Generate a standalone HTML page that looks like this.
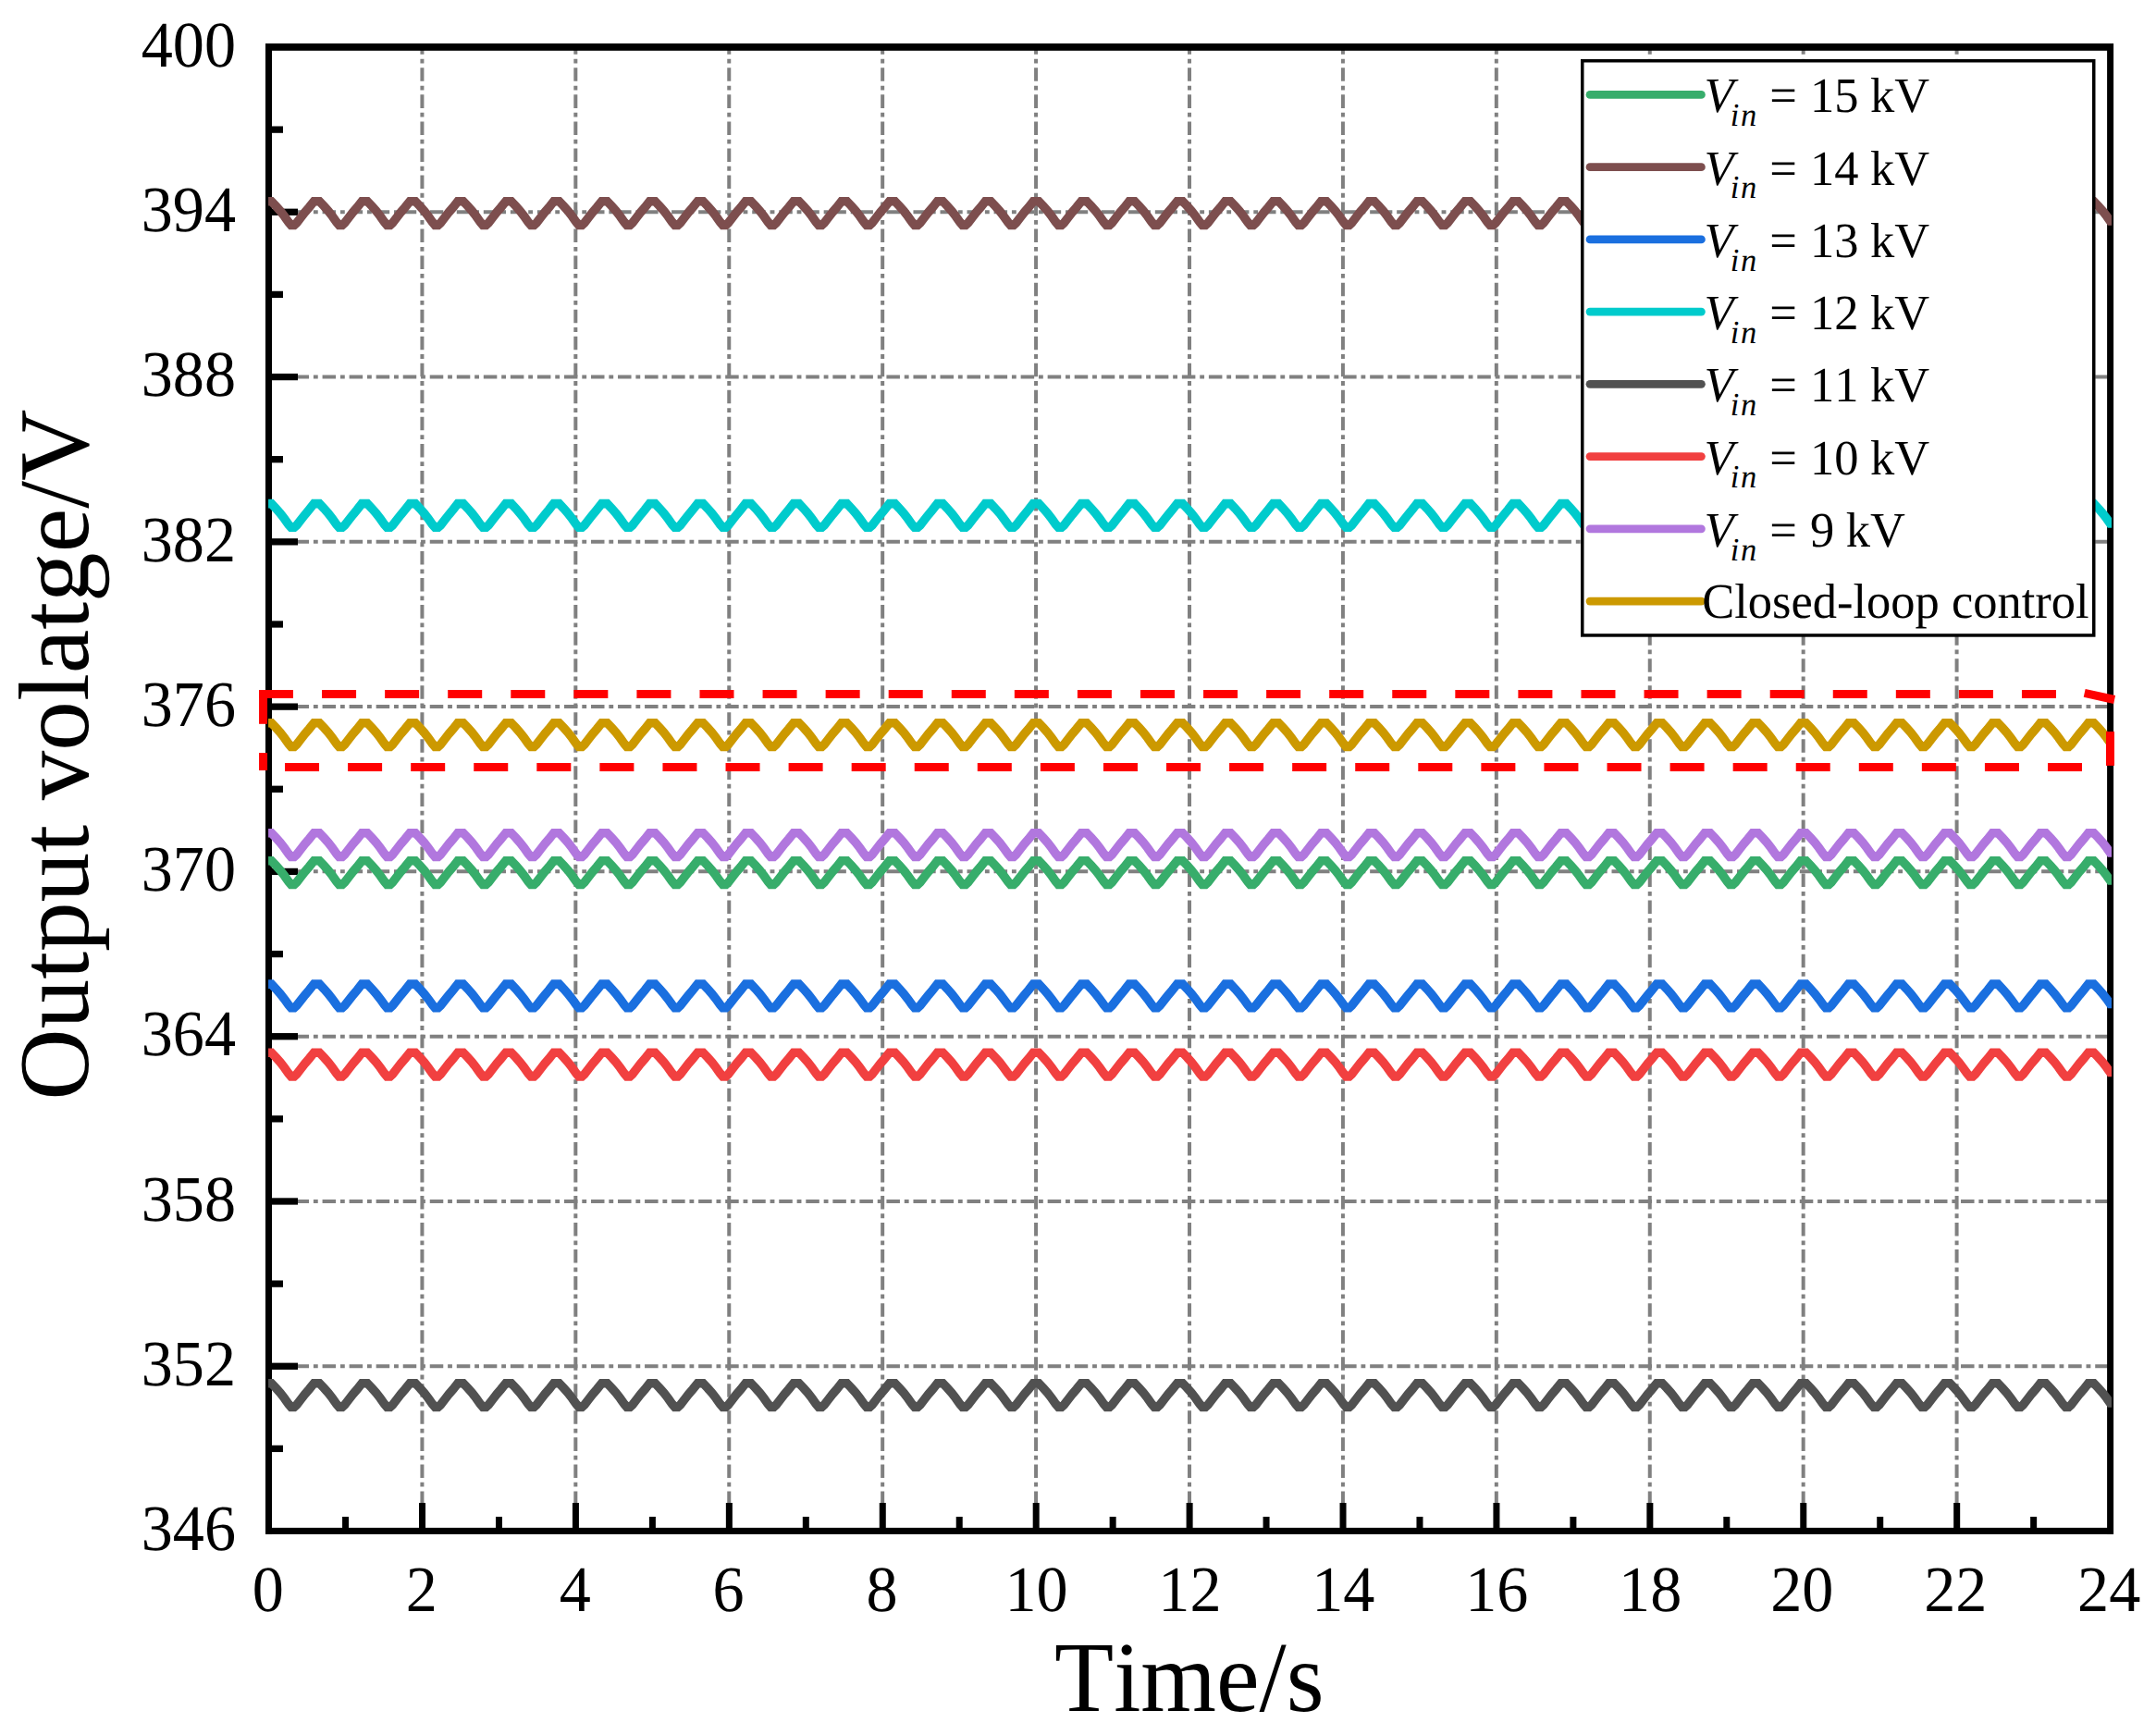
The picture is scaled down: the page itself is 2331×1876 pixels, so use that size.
<!DOCTYPE html>
<html lang="en"><head><meta charset="utf-8"><title>Output voltage versus time</title>
<style>
html,body{margin:0;padding:0;background:#fff;}
body{width:2331px;height:1876px;overflow:hidden;}
svg{display:block;}
text{font-family:"Liberation Serif",serif;fill:#000;font-kerning:none;text-rendering:geometricPrecision;white-space:pre;}
</style></head><body>
<svg width="2331" height="1876" viewBox="0 0 2331 1876">
<rect x="0" y="0" width="2331" height="1876" fill="#ffffff"/>
<g stroke="#808080" stroke-width="4" stroke-dasharray="14.52 4.84 4.84 4.84" fill="none">
<line x1="456.42" y1="1656" x2="456.42" y2="50.95"/>
<line x1="622.33" y1="1656" x2="622.33" y2="50.95"/>
<line x1="788.25" y1="1656" x2="788.25" y2="50.95"/>
<line x1="954.17" y1="1656" x2="954.17" y2="50.95"/>
<line x1="1120.08" y1="1656" x2="1120.08" y2="50.95"/>
<line x1="1286" y1="1656" x2="1286" y2="50.95"/>
<line x1="1451.92" y1="1656" x2="1451.92" y2="50.95"/>
<line x1="1617.83" y1="1656" x2="1617.83" y2="50.95"/>
<line x1="1783.75" y1="1656" x2="1783.75" y2="50.95"/>
<line x1="1949.67" y1="1656" x2="1949.67" y2="50.95"/>
<line x1="2115.58" y1="1656" x2="2115.58" y2="50.95"/>
<line x1="290.5" y1="1477.22" x2="2281.5" y2="1477.22"/>
<line x1="290.5" y1="1298.93" x2="2281.5" y2="1298.93"/>
<line x1="290.5" y1="1120.65" x2="2281.5" y2="1120.65"/>
<line x1="290.5" y1="942.37" x2="2281.5" y2="942.37"/>
<line x1="290.5" y1="764.08" x2="2281.5" y2="764.08"/>
<line x1="290.5" y1="585.8" x2="2281.5" y2="585.8"/>
<line x1="290.5" y1="407.52" x2="2281.5" y2="407.52"/>
<line x1="290.5" y1="229.23" x2="2281.5" y2="229.23"/>
</g>
<g fill="#000000">
<rect x="287" y="47" width="1998" height="7.8"/>
<rect x="287" y="1651.9" width="1998" height="7"/>
<rect x="287" y="47" width="7" height="1611.9"/>
<rect x="2278.1" y="47" width="7" height="1611.9"/>
<rect x="290.5" y="136.49" width="15.5" height="7.3"/>
<rect x="290.5" y="225.63" width="31.5" height="7.3"/>
<rect x="290.5" y="314.77" width="15.5" height="7.3"/>
<rect x="290.5" y="403.92" width="31.5" height="7.3"/>
<rect x="290.5" y="493.06" width="15.5" height="7.3"/>
<rect x="290.5" y="582.2" width="31.5" height="7.3"/>
<rect x="290.5" y="671.34" width="15.5" height="7.3"/>
<rect x="290.5" y="760.48" width="31.5" height="7.3"/>
<rect x="290.5" y="849.62" width="15.5" height="7.3"/>
<rect x="290.5" y="938.77" width="31.5" height="7.3"/>
<rect x="290.5" y="1027.91" width="15.5" height="7.3"/>
<rect x="290.5" y="1117.05" width="31.5" height="7.3"/>
<rect x="290.5" y="1206.19" width="15.5" height="7.3"/>
<rect x="290.5" y="1295.33" width="31.5" height="7.3"/>
<rect x="290.5" y="1384.48" width="15.5" height="7.3"/>
<rect x="290.5" y="1473.62" width="31.5" height="7.3"/>
<rect x="290.5" y="1562.76" width="15.5" height="7.3"/>
<rect x="370.06" y="1640" width="7" height="15.5"/>
<rect x="453.02" y="1625" width="7" height="30.5"/>
<rect x="535.98" y="1640" width="7" height="15.5"/>
<rect x="618.93" y="1625" width="7" height="30.5"/>
<rect x="701.89" y="1640" width="7" height="15.5"/>
<rect x="784.85" y="1625" width="7" height="30.5"/>
<rect x="867.81" y="1640" width="7" height="15.5"/>
<rect x="950.77" y="1625" width="7" height="30.5"/>
<rect x="1033.72" y="1640" width="7" height="15.5"/>
<rect x="1116.68" y="1625" width="7" height="30.5"/>
<rect x="1199.64" y="1640" width="7" height="15.5"/>
<rect x="1282.6" y="1625" width="7" height="30.5"/>
<rect x="1365.56" y="1640" width="7" height="15.5"/>
<rect x="1448.52" y="1625" width="7" height="30.5"/>
<rect x="1531.47" y="1640" width="7" height="15.5"/>
<rect x="1614.43" y="1625" width="7" height="30.5"/>
<rect x="1697.39" y="1640" width="7" height="15.5"/>
<rect x="1780.35" y="1625" width="7" height="30.5"/>
<rect x="1863.31" y="1640" width="7" height="15.5"/>
<rect x="1946.27" y="1625" width="7" height="30.5"/>
<rect x="2029.22" y="1640" width="7" height="15.5"/>
<rect x="2112.18" y="1625" width="7" height="30.5"/>
<rect x="2195.14" y="1640" width="7" height="15.5"/>
</g>
<clipPath id="plotclip"><rect x="290.05" y="40" width="1993.01" height="1630"/></clipPath>
<g clip-path="url(#plotclip)" fill="none" stroke-width="9.6" stroke-linejoin="miter" stroke-miterlimit="4" stroke-linecap="butt">
<polyline stroke="#37AD6B" points="290.1,930.7 293.5,930.7 298.5,936.0 303.0,941.1 307.5,946.9 312.0,953.2 314.7,956.4 318.1,956.4 320.8,953.9 325.3,948.1 329.8,942.4 334.3,937.1 339.4,930.7 345.4,930.7 350.4,936.0 354.9,941.1 359.4,946.9 363.9,953.2 366.6,956.4 370.0,956.4 372.7,953.9 377.2,948.1 381.7,942.4 386.2,937.1 391.2,930.7 397.2,930.7 402.2,936.0 406.7,941.1 411.2,946.9 415.7,953.2 418.4,956.4 421.8,956.4 424.5,953.9 429.0,948.1 433.5,942.4 438.0,937.1 443.1,930.7 449.1,930.7 454.1,936.0 458.6,941.1 463.1,946.9 467.6,953.2 470.3,956.4 473.7,956.4 476.4,953.9 480.9,948.1 485.4,942.4 489.9,937.1 494.9,930.7 500.9,930.7 505.9,936.0 510.4,941.1 514.9,946.9 519.4,953.2 522.1,956.4 525.5,956.4 528.2,953.9 532.7,948.1 537.2,942.4 541.7,937.1 546.8,930.7 552.8,930.7 557.8,936.0 562.2,941.1 566.8,946.9 571.2,953.2 574.0,956.4 577.4,956.4 580.1,953.9 584.6,948.1 589.1,942.4 593.6,937.1 598.6,930.7 604.6,930.7 609.6,936.0 614.1,941.1 618.6,946.9 623.1,953.2 625.8,956.4 629.2,956.4 631.9,953.9 636.4,948.1 640.9,942.4 645.4,937.1 650.5,930.7 656.5,930.7 661.5,936.0 666.0,941.1 670.5,946.9 675.0,953.2 677.7,956.4 681.1,956.4 683.8,953.9 688.3,948.1 692.8,942.4 697.3,937.1 702.3,930.7 708.3,930.7 713.3,936.0 717.8,941.1 722.3,946.9 726.8,953.2 729.5,956.4 732.9,956.4 735.6,953.9 740.1,948.1 744.6,942.4 749.1,937.1 754.2,930.7 760.2,930.7 765.2,936.0 769.7,941.1 774.2,946.9 778.7,953.2 781.4,956.4 784.8,956.4 787.5,953.9 792.0,948.1 796.5,942.4 801.0,937.1 806.0,930.7 812.0,930.7 817.0,936.0 821.5,941.1 826.0,946.9 830.5,953.2 833.2,956.4 836.6,956.4 839.3,953.9 843.8,948.1 848.3,942.4 852.8,937.1 857.9,930.7 863.9,930.7 868.9,936.0 873.4,941.1 877.9,946.9 882.4,953.2 885.1,956.4 888.5,956.4 891.2,953.9 895.7,948.1 900.2,942.4 904.7,937.1 909.7,930.7 915.7,930.7 920.7,936.0 925.2,941.1 929.7,946.9 934.2,953.2 936.9,956.4 940.3,956.4 943.0,953.9 947.5,948.1 952.0,942.4 956.5,937.1 961.6,930.7 967.6,930.7 972.6,936.0 977.1,941.1 981.6,946.9 986.1,953.2 988.8,956.4 992.2,956.4 994.9,953.9 999.4,948.1 1003.9,942.4 1008.4,937.1 1013.4,930.7 1019.4,930.7 1024.4,936.0 1028.9,941.1 1033.4,946.9 1037.9,953.2 1040.6,956.4 1044.0,956.4 1046.7,953.9 1051.2,948.1 1055.7,942.4 1060.2,937.1 1065.2,930.7 1071.2,930.7 1076.2,936.0 1080.8,941.1 1085.2,946.9 1089.8,953.2 1092.5,956.4 1095.9,956.4 1098.6,953.9 1103.1,948.1 1107.6,942.4 1112.1,937.1 1117.1,930.7 1123.1,930.7 1128.1,936.0 1132.6,941.1 1137.1,946.9 1141.6,953.2 1144.3,956.4 1147.7,956.4 1150.4,953.9 1154.9,948.1 1159.4,942.4 1163.9,937.1 1169.0,930.7 1175.0,930.7 1180.0,936.0 1184.5,941.1 1189.0,946.9 1193.5,953.2 1196.2,956.4 1199.6,956.4 1202.3,953.9 1206.8,948.1 1211.3,942.4 1215.8,937.1 1220.8,930.7 1226.8,930.7 1231.8,936.0 1236.3,941.1 1240.8,946.9 1245.3,953.2 1248.0,956.4 1251.4,956.4 1254.1,953.9 1258.6,948.1 1263.1,942.4 1267.6,937.1 1272.7,930.7 1278.7,930.7 1283.7,936.0 1288.2,941.1 1292.7,946.9 1297.2,953.2 1299.9,956.4 1303.3,956.4 1306.0,953.9 1310.5,948.1 1315.0,942.4 1319.5,937.1 1324.5,930.7 1330.5,930.7 1335.5,936.0 1340.0,941.1 1344.5,946.9 1349.0,953.2 1351.7,956.4 1355.1,956.4 1357.8,953.9 1362.3,948.1 1366.8,942.4 1371.3,937.1 1376.4,930.7 1382.4,930.7 1387.4,936.0 1391.9,941.1 1396.4,946.9 1400.9,953.2 1403.6,956.4 1407.0,956.4 1409.7,953.9 1414.2,948.1 1418.7,942.4 1423.2,937.1 1428.2,930.7 1434.2,930.7 1439.2,936.0 1443.7,941.1 1448.2,946.9 1452.7,953.2 1455.4,956.4 1458.8,956.4 1461.5,953.9 1466.0,948.1 1470.5,942.4 1475.0,937.1 1480.0,930.7 1486.0,930.7 1491.0,936.0 1495.5,941.1 1500.0,946.9 1504.5,953.2 1507.3,956.4 1510.7,956.4 1513.4,953.9 1517.9,948.1 1522.4,942.4 1526.9,937.1 1531.9,930.7 1537.9,930.7 1542.9,936.0 1547.4,941.1 1551.9,946.9 1556.4,953.2 1559.1,956.4 1562.5,956.4 1565.2,953.9 1569.7,948.1 1574.2,942.4 1578.7,937.1 1583.8,930.7 1589.8,930.7 1594.8,936.0 1599.2,941.1 1603.8,946.9 1608.2,953.2 1611.0,956.4 1614.4,956.4 1617.1,953.9 1621.6,948.1 1626.1,942.4 1630.6,937.1 1635.6,930.7 1641.6,930.7 1646.6,936.0 1651.1,941.1 1655.6,946.9 1660.1,953.2 1662.8,956.4 1666.2,956.4 1668.9,953.9 1673.4,948.1 1677.9,942.4 1682.4,937.1 1687.5,930.7 1693.5,930.7 1698.5,936.0 1703.0,941.1 1707.5,946.9 1712.0,953.2 1714.7,956.4 1718.1,956.4 1720.8,953.9 1725.3,948.1 1729.8,942.4 1734.3,937.1 1739.3,930.7 1745.3,930.7 1750.3,936.0 1754.8,941.1 1759.3,946.9 1763.8,953.2 1766.5,956.4 1769.9,956.4 1772.6,953.9 1777.1,948.1 1781.6,942.4 1786.1,937.1 1791.2,930.7 1797.2,930.7 1802.2,936.0 1806.7,941.1 1811.2,946.9 1815.7,953.2 1818.4,956.4 1821.8,956.4 1824.5,953.9 1829.0,948.1 1833.5,942.4 1838.0,937.1 1843.0,930.7 1849.0,930.7 1854.0,936.0 1858.5,941.1 1863.0,946.9 1867.5,953.2 1870.2,956.4 1873.6,956.4 1876.3,953.9 1880.8,948.1 1885.3,942.4 1889.8,937.1 1894.9,930.7 1900.9,930.7 1905.9,936.0 1910.4,941.1 1914.9,946.9 1919.4,953.2 1922.1,956.4 1925.5,956.4 1928.2,953.9 1932.7,948.1 1937.2,942.4 1941.7,937.1 1946.7,930.7 1952.7,930.7 1957.7,936.0 1962.2,941.1 1966.7,946.9 1971.2,953.2 1973.9,956.4 1977.3,956.4 1980.0,953.9 1984.5,948.1 1989.0,942.4 1993.5,937.1 1998.5,930.7 2004.5,930.7 2009.5,936.0 2014.0,941.1 2018.5,946.9 2023.0,953.2 2025.8,956.4 2029.2,956.4 2031.9,953.9 2036.4,948.1 2040.9,942.4 2045.4,937.1 2050.4,930.7 2056.4,930.7 2061.4,936.0 2065.9,941.1 2070.4,946.9 2074.9,953.2 2077.6,956.4 2081.0,956.4 2083.7,953.9 2088.2,948.1 2092.7,942.4 2097.2,937.1 2102.2,930.7 2108.2,930.7 2113.2,936.0 2117.8,941.1 2122.2,946.9 2126.8,953.2 2129.5,956.4 2132.9,956.4 2135.6,953.9 2140.1,948.1 2144.6,942.4 2149.1,937.1 2154.1,930.7 2160.1,930.7 2165.1,936.0 2169.6,941.1 2174.1,946.9 2178.6,953.2 2181.3,956.4 2184.7,956.4 2187.4,953.9 2191.9,948.1 2196.4,942.4 2200.9,937.1 2205.9,930.7 2211.9,930.7 2216.9,936.0 2221.4,941.1 2225.9,946.9 2230.4,953.2 2233.2,956.4 2236.6,956.4 2239.3,953.9 2243.8,948.1 2248.3,942.4 2252.8,937.1 2257.8,930.7 2263.8,930.7 2268.8,936.0 2273.3,941.1 2277.8,946.9 2281.4,952.0 2286.1,952.0"/>
<polyline stroke="#7D4E4E" points="290.1,217.7 293.5,217.7 298.5,223.0 303.0,228.1 307.5,233.9 312.0,240.2 314.7,243.4 318.1,243.4 320.8,240.9 325.3,235.1 329.8,229.4 334.3,224.1 339.4,217.7 345.4,217.7 350.4,223.0 354.9,228.1 359.4,233.9 363.9,240.2 366.6,243.4 370.0,243.4 372.7,240.9 377.2,235.1 381.7,229.4 386.2,224.1 391.2,217.7 397.2,217.7 402.2,223.0 406.7,228.1 411.2,233.9 415.7,240.2 418.4,243.4 421.8,243.4 424.5,240.9 429.0,235.1 433.5,229.4 438.0,224.1 443.1,217.7 449.1,217.7 454.1,223.0 458.6,228.1 463.1,233.9 467.6,240.2 470.3,243.4 473.7,243.4 476.4,240.9 480.9,235.1 485.4,229.4 489.9,224.1 494.9,217.7 500.9,217.7 505.9,223.0 510.4,228.1 514.9,233.9 519.4,240.2 522.1,243.4 525.5,243.4 528.2,240.9 532.7,235.1 537.2,229.4 541.7,224.1 546.8,217.7 552.8,217.7 557.8,223.0 562.2,228.1 566.8,233.9 571.2,240.2 574.0,243.4 577.4,243.4 580.1,240.9 584.6,235.1 589.1,229.4 593.6,224.1 598.6,217.7 604.6,217.7 609.6,223.0 614.1,228.1 618.6,233.9 623.1,240.2 625.8,243.4 629.2,243.4 631.9,240.9 636.4,235.1 640.9,229.4 645.4,224.1 650.5,217.7 656.5,217.7 661.5,223.0 666.0,228.1 670.5,233.9 675.0,240.2 677.7,243.4 681.1,243.4 683.8,240.9 688.3,235.1 692.8,229.4 697.3,224.1 702.3,217.7 708.3,217.7 713.3,223.0 717.8,228.1 722.3,233.9 726.8,240.2 729.5,243.4 732.9,243.4 735.6,240.9 740.1,235.1 744.6,229.4 749.1,224.1 754.2,217.7 760.2,217.7 765.2,223.0 769.7,228.1 774.2,233.9 778.7,240.2 781.4,243.4 784.8,243.4 787.5,240.9 792.0,235.1 796.5,229.4 801.0,224.1 806.0,217.7 812.0,217.7 817.0,223.0 821.5,228.1 826.0,233.9 830.5,240.2 833.2,243.4 836.6,243.4 839.3,240.9 843.8,235.1 848.3,229.4 852.8,224.1 857.9,217.7 863.9,217.7 868.9,223.0 873.4,228.1 877.9,233.9 882.4,240.2 885.1,243.4 888.5,243.4 891.2,240.9 895.7,235.1 900.2,229.4 904.7,224.1 909.7,217.7 915.7,217.7 920.7,223.0 925.2,228.1 929.7,233.9 934.2,240.2 936.9,243.4 940.3,243.4 943.0,240.9 947.5,235.1 952.0,229.4 956.5,224.1 961.6,217.7 967.6,217.7 972.6,223.0 977.1,228.1 981.6,233.9 986.1,240.2 988.8,243.4 992.2,243.4 994.9,240.9 999.4,235.1 1003.9,229.4 1008.4,224.1 1013.4,217.7 1019.4,217.7 1024.4,223.0 1028.9,228.1 1033.4,233.9 1037.9,240.2 1040.6,243.4 1044.0,243.4 1046.7,240.9 1051.2,235.1 1055.7,229.4 1060.2,224.1 1065.2,217.7 1071.2,217.7 1076.2,223.0 1080.8,228.1 1085.2,233.9 1089.8,240.2 1092.5,243.4 1095.9,243.4 1098.6,240.9 1103.1,235.1 1107.6,229.4 1112.1,224.1 1117.1,217.7 1123.1,217.7 1128.1,223.0 1132.6,228.1 1137.1,233.9 1141.6,240.2 1144.3,243.4 1147.7,243.4 1150.4,240.9 1154.9,235.1 1159.4,229.4 1163.9,224.1 1169.0,217.7 1175.0,217.7 1180.0,223.0 1184.5,228.1 1189.0,233.9 1193.5,240.2 1196.2,243.4 1199.6,243.4 1202.3,240.9 1206.8,235.1 1211.3,229.4 1215.8,224.1 1220.8,217.7 1226.8,217.7 1231.8,223.0 1236.3,228.1 1240.8,233.9 1245.3,240.2 1248.0,243.4 1251.4,243.4 1254.1,240.9 1258.6,235.1 1263.1,229.4 1267.6,224.1 1272.7,217.7 1278.7,217.7 1283.7,223.0 1288.2,228.1 1292.7,233.9 1297.2,240.2 1299.9,243.4 1303.3,243.4 1306.0,240.9 1310.5,235.1 1315.0,229.4 1319.5,224.1 1324.5,217.7 1330.5,217.7 1335.5,223.0 1340.0,228.1 1344.5,233.9 1349.0,240.2 1351.7,243.4 1355.1,243.4 1357.8,240.9 1362.3,235.1 1366.8,229.4 1371.3,224.1 1376.4,217.7 1382.4,217.7 1387.4,223.0 1391.9,228.1 1396.4,233.9 1400.9,240.2 1403.6,243.4 1407.0,243.4 1409.7,240.9 1414.2,235.1 1418.7,229.4 1423.2,224.1 1428.2,217.7 1434.2,217.7 1439.2,223.0 1443.7,228.1 1448.2,233.9 1452.7,240.2 1455.4,243.4 1458.8,243.4 1461.5,240.9 1466.0,235.1 1470.5,229.4 1475.0,224.1 1480.0,217.7 1486.0,217.7 1491.0,223.0 1495.5,228.1 1500.0,233.9 1504.5,240.2 1507.3,243.4 1510.7,243.4 1513.4,240.9 1517.9,235.1 1522.4,229.4 1526.9,224.1 1531.9,217.7 1537.9,217.7 1542.9,223.0 1547.4,228.1 1551.9,233.9 1556.4,240.2 1559.1,243.4 1562.5,243.4 1565.2,240.9 1569.7,235.1 1574.2,229.4 1578.7,224.1 1583.8,217.7 1589.8,217.7 1594.8,223.0 1599.2,228.1 1603.8,233.9 1608.2,240.2 1611.0,243.4 1614.4,243.4 1617.1,240.9 1621.6,235.1 1626.1,229.4 1630.6,224.1 1635.6,217.7 1641.6,217.7 1646.6,223.0 1651.1,228.1 1655.6,233.9 1660.1,240.2 1662.8,243.4 1666.2,243.4 1668.9,240.9 1673.4,235.1 1677.9,229.4 1682.4,224.1 1687.5,217.7 1693.5,217.7 1698.5,223.0 1703.0,228.1 1707.5,233.9 1712.0,240.2 1714.7,243.4 1718.1,243.4 1720.8,240.9 1725.3,235.1 1729.8,229.4 1734.3,224.1 1739.3,217.7 1745.3,217.7 1750.3,223.0 1754.8,228.1 1759.3,233.9 1763.8,240.2 1766.5,243.4 1769.9,243.4 1772.6,240.9 1777.1,235.1 1781.6,229.4 1786.1,224.1 1791.2,217.7 1797.2,217.7 1802.2,223.0 1806.7,228.1 1811.2,233.9 1815.7,240.2 1818.4,243.4 1821.8,243.4 1824.5,240.9 1829.0,235.1 1833.5,229.4 1838.0,224.1 1843.0,217.7 1849.0,217.7 1854.0,223.0 1858.5,228.1 1863.0,233.9 1867.5,240.2 1870.2,243.4 1873.6,243.4 1876.3,240.9 1880.8,235.1 1885.3,229.4 1889.8,224.1 1894.9,217.7 1900.9,217.7 1905.9,223.0 1910.4,228.1 1914.9,233.9 1919.4,240.2 1922.1,243.4 1925.5,243.4 1928.2,240.9 1932.7,235.1 1937.2,229.4 1941.7,224.1 1946.7,217.7 1952.7,217.7 1957.7,223.0 1962.2,228.1 1966.7,233.9 1971.2,240.2 1973.9,243.4 1977.3,243.4 1980.0,240.9 1984.5,235.1 1989.0,229.4 1993.5,224.1 1998.5,217.7 2004.5,217.7 2009.5,223.0 2014.0,228.1 2018.5,233.9 2023.0,240.2 2025.8,243.4 2029.2,243.4 2031.9,240.9 2036.4,235.1 2040.9,229.4 2045.4,224.1 2050.4,217.7 2056.4,217.7 2061.4,223.0 2065.9,228.1 2070.4,233.9 2074.9,240.2 2077.6,243.4 2081.0,243.4 2083.7,240.9 2088.2,235.1 2092.7,229.4 2097.2,224.1 2102.2,217.7 2108.2,217.7 2113.2,223.0 2117.8,228.1 2122.2,233.9 2126.8,240.2 2129.5,243.4 2132.9,243.4 2135.6,240.9 2140.1,235.1 2144.6,229.4 2149.1,224.1 2154.1,217.7 2160.1,217.7 2165.1,223.0 2169.6,228.1 2174.1,233.9 2178.6,240.2 2181.3,243.4 2184.7,243.4 2187.4,240.9 2191.9,235.1 2196.4,229.4 2200.9,224.1 2205.9,217.7 2211.9,217.7 2216.9,223.0 2221.4,228.1 2225.9,233.9 2230.4,240.2 2233.2,243.4 2236.6,243.4 2239.3,240.9 2243.8,235.1 2248.3,229.4 2252.8,224.1 2257.8,217.7 2263.8,217.7 2268.8,223.0 2273.3,228.1 2277.8,233.9 2281.4,239.0 2286.1,239.0"/>
<polyline stroke="#1A6FDF" points="290.1,1064.1 293.5,1064.1 298.5,1069.4 303.0,1074.5 307.5,1080.3 312.0,1086.6 314.7,1089.8 318.1,1089.8 320.8,1087.3 325.3,1081.5 329.8,1075.8 334.3,1070.5 339.4,1064.1 345.4,1064.1 350.4,1069.4 354.9,1074.5 359.4,1080.3 363.9,1086.6 366.6,1089.8 370.0,1089.8 372.7,1087.3 377.2,1081.5 381.7,1075.8 386.2,1070.5 391.2,1064.1 397.2,1064.1 402.2,1069.4 406.7,1074.5 411.2,1080.3 415.7,1086.6 418.4,1089.8 421.8,1089.8 424.5,1087.3 429.0,1081.5 433.5,1075.8 438.0,1070.5 443.1,1064.1 449.1,1064.1 454.1,1069.4 458.6,1074.5 463.1,1080.3 467.6,1086.6 470.3,1089.8 473.7,1089.8 476.4,1087.3 480.9,1081.5 485.4,1075.8 489.9,1070.5 494.9,1064.1 500.9,1064.1 505.9,1069.4 510.4,1074.5 514.9,1080.3 519.4,1086.6 522.1,1089.8 525.5,1089.8 528.2,1087.3 532.7,1081.5 537.2,1075.8 541.7,1070.5 546.8,1064.1 552.8,1064.1 557.8,1069.4 562.2,1074.5 566.8,1080.3 571.2,1086.6 574.0,1089.8 577.4,1089.8 580.1,1087.3 584.6,1081.5 589.1,1075.8 593.6,1070.5 598.6,1064.1 604.6,1064.1 609.6,1069.4 614.1,1074.5 618.6,1080.3 623.1,1086.6 625.8,1089.8 629.2,1089.8 631.9,1087.3 636.4,1081.5 640.9,1075.8 645.4,1070.5 650.5,1064.1 656.5,1064.1 661.5,1069.4 666.0,1074.5 670.5,1080.3 675.0,1086.6 677.7,1089.8 681.1,1089.8 683.8,1087.3 688.3,1081.5 692.8,1075.8 697.3,1070.5 702.3,1064.1 708.3,1064.1 713.3,1069.4 717.8,1074.5 722.3,1080.3 726.8,1086.6 729.5,1089.8 732.9,1089.8 735.6,1087.3 740.1,1081.5 744.6,1075.8 749.1,1070.5 754.2,1064.1 760.2,1064.1 765.2,1069.4 769.7,1074.5 774.2,1080.3 778.7,1086.6 781.4,1089.8 784.8,1089.8 787.5,1087.3 792.0,1081.5 796.5,1075.8 801.0,1070.5 806.0,1064.1 812.0,1064.1 817.0,1069.4 821.5,1074.5 826.0,1080.3 830.5,1086.6 833.2,1089.8 836.6,1089.8 839.3,1087.3 843.8,1081.5 848.3,1075.8 852.8,1070.5 857.9,1064.1 863.9,1064.1 868.9,1069.4 873.4,1074.5 877.9,1080.3 882.4,1086.6 885.1,1089.8 888.5,1089.8 891.2,1087.3 895.7,1081.5 900.2,1075.8 904.7,1070.5 909.7,1064.1 915.7,1064.1 920.7,1069.4 925.2,1074.5 929.7,1080.3 934.2,1086.6 936.9,1089.8 940.3,1089.8 943.0,1087.3 947.5,1081.5 952.0,1075.8 956.5,1070.5 961.6,1064.1 967.6,1064.1 972.6,1069.4 977.1,1074.5 981.6,1080.3 986.1,1086.6 988.8,1089.8 992.2,1089.8 994.9,1087.3 999.4,1081.5 1003.9,1075.8 1008.4,1070.5 1013.4,1064.1 1019.4,1064.1 1024.4,1069.4 1028.9,1074.5 1033.4,1080.3 1037.9,1086.6 1040.6,1089.8 1044.0,1089.8 1046.7,1087.3 1051.2,1081.5 1055.7,1075.8 1060.2,1070.5 1065.2,1064.1 1071.2,1064.1 1076.2,1069.4 1080.8,1074.5 1085.2,1080.3 1089.8,1086.6 1092.5,1089.8 1095.9,1089.8 1098.6,1087.3 1103.1,1081.5 1107.6,1075.8 1112.1,1070.5 1117.1,1064.1 1123.1,1064.1 1128.1,1069.4 1132.6,1074.5 1137.1,1080.3 1141.6,1086.6 1144.3,1089.8 1147.7,1089.8 1150.4,1087.3 1154.9,1081.5 1159.4,1075.8 1163.9,1070.5 1169.0,1064.1 1175.0,1064.1 1180.0,1069.4 1184.5,1074.5 1189.0,1080.3 1193.5,1086.6 1196.2,1089.8 1199.6,1089.8 1202.3,1087.3 1206.8,1081.5 1211.3,1075.8 1215.8,1070.5 1220.8,1064.1 1226.8,1064.1 1231.8,1069.4 1236.3,1074.5 1240.8,1080.3 1245.3,1086.6 1248.0,1089.8 1251.4,1089.8 1254.1,1087.3 1258.6,1081.5 1263.1,1075.8 1267.6,1070.5 1272.7,1064.1 1278.7,1064.1 1283.7,1069.4 1288.2,1074.5 1292.7,1080.3 1297.2,1086.6 1299.9,1089.8 1303.3,1089.8 1306.0,1087.3 1310.5,1081.5 1315.0,1075.8 1319.5,1070.5 1324.5,1064.1 1330.5,1064.1 1335.5,1069.4 1340.0,1074.5 1344.5,1080.3 1349.0,1086.6 1351.7,1089.8 1355.1,1089.8 1357.8,1087.3 1362.3,1081.5 1366.8,1075.8 1371.3,1070.5 1376.4,1064.1 1382.4,1064.1 1387.4,1069.4 1391.9,1074.5 1396.4,1080.3 1400.9,1086.6 1403.6,1089.8 1407.0,1089.8 1409.7,1087.3 1414.2,1081.5 1418.7,1075.8 1423.2,1070.5 1428.2,1064.1 1434.2,1064.1 1439.2,1069.4 1443.7,1074.5 1448.2,1080.3 1452.7,1086.6 1455.4,1089.8 1458.8,1089.8 1461.5,1087.3 1466.0,1081.5 1470.5,1075.8 1475.0,1070.5 1480.0,1064.1 1486.0,1064.1 1491.0,1069.4 1495.5,1074.5 1500.0,1080.3 1504.5,1086.6 1507.3,1089.8 1510.7,1089.8 1513.4,1087.3 1517.9,1081.5 1522.4,1075.8 1526.9,1070.5 1531.9,1064.1 1537.9,1064.1 1542.9,1069.4 1547.4,1074.5 1551.9,1080.3 1556.4,1086.6 1559.1,1089.8 1562.5,1089.8 1565.2,1087.3 1569.7,1081.5 1574.2,1075.8 1578.7,1070.5 1583.8,1064.1 1589.8,1064.1 1594.8,1069.4 1599.2,1074.5 1603.8,1080.3 1608.2,1086.6 1611.0,1089.8 1614.4,1089.8 1617.1,1087.3 1621.6,1081.5 1626.1,1075.8 1630.6,1070.5 1635.6,1064.1 1641.6,1064.1 1646.6,1069.4 1651.1,1074.5 1655.6,1080.3 1660.1,1086.6 1662.8,1089.8 1666.2,1089.8 1668.9,1087.3 1673.4,1081.5 1677.9,1075.8 1682.4,1070.5 1687.5,1064.1 1693.5,1064.1 1698.5,1069.4 1703.0,1074.5 1707.5,1080.3 1712.0,1086.6 1714.7,1089.8 1718.1,1089.8 1720.8,1087.3 1725.3,1081.5 1729.8,1075.8 1734.3,1070.5 1739.3,1064.1 1745.3,1064.1 1750.3,1069.4 1754.8,1074.5 1759.3,1080.3 1763.8,1086.6 1766.5,1089.8 1769.9,1089.8 1772.6,1087.3 1777.1,1081.5 1781.6,1075.8 1786.1,1070.5 1791.2,1064.1 1797.2,1064.1 1802.2,1069.4 1806.7,1074.5 1811.2,1080.3 1815.7,1086.6 1818.4,1089.8 1821.8,1089.8 1824.5,1087.3 1829.0,1081.5 1833.5,1075.8 1838.0,1070.5 1843.0,1064.1 1849.0,1064.1 1854.0,1069.4 1858.5,1074.5 1863.0,1080.3 1867.5,1086.6 1870.2,1089.8 1873.6,1089.8 1876.3,1087.3 1880.8,1081.5 1885.3,1075.8 1889.8,1070.5 1894.9,1064.1 1900.9,1064.1 1905.9,1069.4 1910.4,1074.5 1914.9,1080.3 1919.4,1086.6 1922.1,1089.8 1925.5,1089.8 1928.2,1087.3 1932.7,1081.5 1937.2,1075.8 1941.7,1070.5 1946.7,1064.1 1952.7,1064.1 1957.7,1069.4 1962.2,1074.5 1966.7,1080.3 1971.2,1086.6 1973.9,1089.8 1977.3,1089.8 1980.0,1087.3 1984.5,1081.5 1989.0,1075.8 1993.5,1070.5 1998.5,1064.1 2004.5,1064.1 2009.5,1069.4 2014.0,1074.5 2018.5,1080.3 2023.0,1086.6 2025.8,1089.8 2029.2,1089.8 2031.9,1087.3 2036.4,1081.5 2040.9,1075.8 2045.4,1070.5 2050.4,1064.1 2056.4,1064.1 2061.4,1069.4 2065.9,1074.5 2070.4,1080.3 2074.9,1086.6 2077.6,1089.8 2081.0,1089.8 2083.7,1087.3 2088.2,1081.5 2092.7,1075.8 2097.2,1070.5 2102.2,1064.1 2108.2,1064.1 2113.2,1069.4 2117.8,1074.5 2122.2,1080.3 2126.8,1086.6 2129.5,1089.8 2132.9,1089.8 2135.6,1087.3 2140.1,1081.5 2144.6,1075.8 2149.1,1070.5 2154.1,1064.1 2160.1,1064.1 2165.1,1069.4 2169.6,1074.5 2174.1,1080.3 2178.6,1086.6 2181.3,1089.8 2184.7,1089.8 2187.4,1087.3 2191.9,1081.5 2196.4,1075.8 2200.9,1070.5 2205.9,1064.1 2211.9,1064.1 2216.9,1069.4 2221.4,1074.5 2225.9,1080.3 2230.4,1086.6 2233.2,1089.8 2236.6,1089.8 2239.3,1087.3 2243.8,1081.5 2248.3,1075.8 2252.8,1070.5 2257.8,1064.1 2263.8,1064.1 2268.8,1069.4 2273.3,1074.5 2277.8,1080.3 2281.4,1085.4 2286.1,1085.4"/>
<polyline stroke="#00CBCC" points="290.1,544.6 293.5,544.6 298.5,549.9 303.0,555.0 307.5,560.9 312.0,567.2 314.7,570.3 318.1,570.3 320.8,567.9 325.3,562.1 329.8,556.4 334.3,551.0 339.4,544.6 345.4,544.6 350.4,549.9 354.9,555.0 359.4,560.9 363.9,567.2 366.6,570.3 370.0,570.3 372.7,567.9 377.2,562.1 381.7,556.4 386.2,551.0 391.2,544.6 397.2,544.6 402.2,549.9 406.7,555.0 411.2,560.9 415.7,567.2 418.4,570.3 421.8,570.3 424.5,567.9 429.0,562.1 433.5,556.4 438.0,551.0 443.1,544.6 449.1,544.6 454.1,549.9 458.6,555.0 463.1,560.9 467.6,567.2 470.3,570.3 473.7,570.3 476.4,567.9 480.9,562.1 485.4,556.4 489.9,551.0 494.9,544.6 500.9,544.6 505.9,549.9 510.4,555.0 514.9,560.9 519.4,567.2 522.1,570.3 525.5,570.3 528.2,567.9 532.7,562.1 537.2,556.4 541.7,551.0 546.8,544.6 552.8,544.6 557.8,549.9 562.2,555.0 566.8,560.9 571.2,567.2 574.0,570.3 577.4,570.3 580.1,567.9 584.6,562.1 589.1,556.4 593.6,551.0 598.6,544.6 604.6,544.6 609.6,549.9 614.1,555.0 618.6,560.9 623.1,567.2 625.8,570.3 629.2,570.3 631.9,567.9 636.4,562.1 640.9,556.4 645.4,551.0 650.5,544.6 656.5,544.6 661.5,549.9 666.0,555.0 670.5,560.9 675.0,567.2 677.7,570.3 681.1,570.3 683.8,567.9 688.3,562.1 692.8,556.4 697.3,551.0 702.3,544.6 708.3,544.6 713.3,549.9 717.8,555.0 722.3,560.9 726.8,567.2 729.5,570.3 732.9,570.3 735.6,567.9 740.1,562.1 744.6,556.4 749.1,551.0 754.2,544.6 760.2,544.6 765.2,549.9 769.7,555.0 774.2,560.9 778.7,567.2 781.4,570.3 784.8,570.3 787.5,567.9 792.0,562.1 796.5,556.4 801.0,551.0 806.0,544.6 812.0,544.6 817.0,549.9 821.5,555.0 826.0,560.9 830.5,567.2 833.2,570.3 836.6,570.3 839.3,567.9 843.8,562.1 848.3,556.4 852.8,551.0 857.9,544.6 863.9,544.6 868.9,549.9 873.4,555.0 877.9,560.9 882.4,567.2 885.1,570.3 888.5,570.3 891.2,567.9 895.7,562.1 900.2,556.4 904.7,551.0 909.7,544.6 915.7,544.6 920.7,549.9 925.2,555.0 929.7,560.9 934.2,567.2 936.9,570.3 940.3,570.3 943.0,567.9 947.5,562.1 952.0,556.4 956.5,551.0 961.6,544.6 967.6,544.6 972.6,549.9 977.1,555.0 981.6,560.9 986.1,567.2 988.8,570.3 992.2,570.3 994.9,567.9 999.4,562.1 1003.9,556.4 1008.4,551.0 1013.4,544.6 1019.4,544.6 1024.4,549.9 1028.9,555.0 1033.4,560.9 1037.9,567.2 1040.6,570.3 1044.0,570.3 1046.7,567.9 1051.2,562.1 1055.7,556.4 1060.2,551.0 1065.2,544.6 1071.2,544.6 1076.2,549.9 1080.8,555.0 1085.2,560.9 1089.8,567.2 1092.5,570.3 1095.9,570.3 1098.6,567.9 1103.1,562.1 1107.6,556.4 1112.1,551.0 1117.1,544.6 1123.1,544.6 1128.1,549.9 1132.6,555.0 1137.1,560.9 1141.6,567.2 1144.3,570.3 1147.7,570.3 1150.4,567.9 1154.9,562.1 1159.4,556.4 1163.9,551.0 1169.0,544.6 1175.0,544.6 1180.0,549.9 1184.5,555.0 1189.0,560.9 1193.5,567.2 1196.2,570.3 1199.6,570.3 1202.3,567.9 1206.8,562.1 1211.3,556.4 1215.8,551.0 1220.8,544.6 1226.8,544.6 1231.8,549.9 1236.3,555.0 1240.8,560.9 1245.3,567.2 1248.0,570.3 1251.4,570.3 1254.1,567.9 1258.6,562.1 1263.1,556.4 1267.6,551.0 1272.7,544.6 1278.7,544.6 1283.7,549.9 1288.2,555.0 1292.7,560.9 1297.2,567.2 1299.9,570.3 1303.3,570.3 1306.0,567.9 1310.5,562.1 1315.0,556.4 1319.5,551.0 1324.5,544.6 1330.5,544.6 1335.5,549.9 1340.0,555.0 1344.5,560.9 1349.0,567.2 1351.7,570.3 1355.1,570.3 1357.8,567.9 1362.3,562.1 1366.8,556.4 1371.3,551.0 1376.4,544.6 1382.4,544.6 1387.4,549.9 1391.9,555.0 1396.4,560.9 1400.9,567.2 1403.6,570.3 1407.0,570.3 1409.7,567.9 1414.2,562.1 1418.7,556.4 1423.2,551.0 1428.2,544.6 1434.2,544.6 1439.2,549.9 1443.7,555.0 1448.2,560.9 1452.7,567.2 1455.4,570.3 1458.8,570.3 1461.5,567.9 1466.0,562.1 1470.5,556.4 1475.0,551.0 1480.0,544.6 1486.0,544.6 1491.0,549.9 1495.5,555.0 1500.0,560.9 1504.5,567.2 1507.3,570.3 1510.7,570.3 1513.4,567.9 1517.9,562.1 1522.4,556.4 1526.9,551.0 1531.9,544.6 1537.9,544.6 1542.9,549.9 1547.4,555.0 1551.9,560.9 1556.4,567.2 1559.1,570.3 1562.5,570.3 1565.2,567.9 1569.7,562.1 1574.2,556.4 1578.7,551.0 1583.8,544.6 1589.8,544.6 1594.8,549.9 1599.2,555.0 1603.8,560.9 1608.2,567.2 1611.0,570.3 1614.4,570.3 1617.1,567.9 1621.6,562.1 1626.1,556.4 1630.6,551.0 1635.6,544.6 1641.6,544.6 1646.6,549.9 1651.1,555.0 1655.6,560.9 1660.1,567.2 1662.8,570.3 1666.2,570.3 1668.9,567.9 1673.4,562.1 1677.9,556.4 1682.4,551.0 1687.5,544.6 1693.5,544.6 1698.5,549.9 1703.0,555.0 1707.5,560.9 1712.0,567.2 1714.7,570.3 1718.1,570.3 1720.8,567.9 1725.3,562.1 1729.8,556.4 1734.3,551.0 1739.3,544.6 1745.3,544.6 1750.3,549.9 1754.8,555.0 1759.3,560.9 1763.8,567.2 1766.5,570.3 1769.9,570.3 1772.6,567.9 1777.1,562.1 1781.6,556.4 1786.1,551.0 1791.2,544.6 1797.2,544.6 1802.2,549.9 1806.7,555.0 1811.2,560.9 1815.7,567.2 1818.4,570.3 1821.8,570.3 1824.5,567.9 1829.0,562.1 1833.5,556.4 1838.0,551.0 1843.0,544.6 1849.0,544.6 1854.0,549.9 1858.5,555.0 1863.0,560.9 1867.5,567.2 1870.2,570.3 1873.6,570.3 1876.3,567.9 1880.8,562.1 1885.3,556.4 1889.8,551.0 1894.9,544.6 1900.9,544.6 1905.9,549.9 1910.4,555.0 1914.9,560.9 1919.4,567.2 1922.1,570.3 1925.5,570.3 1928.2,567.9 1932.7,562.1 1937.2,556.4 1941.7,551.0 1946.7,544.6 1952.7,544.6 1957.7,549.9 1962.2,555.0 1966.7,560.9 1971.2,567.2 1973.9,570.3 1977.3,570.3 1980.0,567.9 1984.5,562.1 1989.0,556.4 1993.5,551.0 1998.5,544.6 2004.5,544.6 2009.5,549.9 2014.0,555.0 2018.5,560.9 2023.0,567.2 2025.8,570.3 2029.2,570.3 2031.9,567.9 2036.4,562.1 2040.9,556.4 2045.4,551.0 2050.4,544.6 2056.4,544.6 2061.4,549.9 2065.9,555.0 2070.4,560.9 2074.9,567.2 2077.6,570.3 2081.0,570.3 2083.7,567.9 2088.2,562.1 2092.7,556.4 2097.2,551.0 2102.2,544.6 2108.2,544.6 2113.2,549.9 2117.8,555.0 2122.2,560.9 2126.8,567.2 2129.5,570.3 2132.9,570.3 2135.6,567.9 2140.1,562.1 2144.6,556.4 2149.1,551.0 2154.1,544.6 2160.1,544.6 2165.1,549.9 2169.6,555.0 2174.1,560.9 2178.6,567.2 2181.3,570.3 2184.7,570.3 2187.4,567.9 2191.9,562.1 2196.4,556.4 2200.9,551.0 2205.9,544.6 2211.9,544.6 2216.9,549.9 2221.4,555.0 2225.9,560.9 2230.4,567.2 2233.2,570.3 2236.6,570.3 2239.3,567.9 2243.8,562.1 2248.3,556.4 2252.8,551.0 2257.8,544.6 2263.8,544.6 2268.8,549.9 2273.3,555.0 2277.8,560.9 2281.4,566.0 2286.1,566.0"/>
<polyline stroke="#515151" points="290.1,1495.7 293.5,1495.7 298.5,1501.0 303.0,1506.1 307.5,1511.9 312.0,1518.2 314.7,1521.4 318.1,1521.4 320.8,1518.9 325.3,1513.1 329.8,1507.4 334.3,1502.1 339.4,1495.7 345.4,1495.7 350.4,1501.0 354.9,1506.1 359.4,1511.9 363.9,1518.2 366.6,1521.4 370.0,1521.4 372.7,1518.9 377.2,1513.1 381.7,1507.4 386.2,1502.1 391.2,1495.7 397.2,1495.7 402.2,1501.0 406.7,1506.1 411.2,1511.9 415.7,1518.2 418.4,1521.4 421.8,1521.4 424.5,1518.9 429.0,1513.1 433.5,1507.4 438.0,1502.1 443.1,1495.7 449.1,1495.7 454.1,1501.0 458.6,1506.1 463.1,1511.9 467.6,1518.2 470.3,1521.4 473.7,1521.4 476.4,1518.9 480.9,1513.1 485.4,1507.4 489.9,1502.1 494.9,1495.7 500.9,1495.7 505.9,1501.0 510.4,1506.1 514.9,1511.9 519.4,1518.2 522.1,1521.4 525.5,1521.4 528.2,1518.9 532.7,1513.1 537.2,1507.4 541.7,1502.1 546.8,1495.7 552.8,1495.7 557.8,1501.0 562.2,1506.1 566.8,1511.9 571.2,1518.2 574.0,1521.4 577.4,1521.4 580.1,1518.9 584.6,1513.1 589.1,1507.4 593.6,1502.1 598.6,1495.7 604.6,1495.7 609.6,1501.0 614.1,1506.1 618.6,1511.9 623.1,1518.2 625.8,1521.4 629.2,1521.4 631.9,1518.9 636.4,1513.1 640.9,1507.4 645.4,1502.1 650.5,1495.7 656.5,1495.7 661.5,1501.0 666.0,1506.1 670.5,1511.9 675.0,1518.2 677.7,1521.4 681.1,1521.4 683.8,1518.9 688.3,1513.1 692.8,1507.4 697.3,1502.1 702.3,1495.7 708.3,1495.7 713.3,1501.0 717.8,1506.1 722.3,1511.9 726.8,1518.2 729.5,1521.4 732.9,1521.4 735.6,1518.9 740.1,1513.1 744.6,1507.4 749.1,1502.1 754.2,1495.7 760.2,1495.7 765.2,1501.0 769.7,1506.1 774.2,1511.9 778.7,1518.2 781.4,1521.4 784.8,1521.4 787.5,1518.9 792.0,1513.1 796.5,1507.4 801.0,1502.1 806.0,1495.7 812.0,1495.7 817.0,1501.0 821.5,1506.1 826.0,1511.9 830.5,1518.2 833.2,1521.4 836.6,1521.4 839.3,1518.9 843.8,1513.1 848.3,1507.4 852.8,1502.1 857.9,1495.7 863.9,1495.7 868.9,1501.0 873.4,1506.1 877.9,1511.9 882.4,1518.2 885.1,1521.4 888.5,1521.4 891.2,1518.9 895.7,1513.1 900.2,1507.4 904.7,1502.1 909.7,1495.7 915.7,1495.7 920.7,1501.0 925.2,1506.1 929.7,1511.9 934.2,1518.2 936.9,1521.4 940.3,1521.4 943.0,1518.9 947.5,1513.1 952.0,1507.4 956.5,1502.1 961.6,1495.7 967.6,1495.7 972.6,1501.0 977.1,1506.1 981.6,1511.9 986.1,1518.2 988.8,1521.4 992.2,1521.4 994.9,1518.9 999.4,1513.1 1003.9,1507.4 1008.4,1502.1 1013.4,1495.7 1019.4,1495.7 1024.4,1501.0 1028.9,1506.1 1033.4,1511.9 1037.9,1518.2 1040.6,1521.4 1044.0,1521.4 1046.7,1518.9 1051.2,1513.1 1055.7,1507.4 1060.2,1502.1 1065.2,1495.7 1071.2,1495.7 1076.2,1501.0 1080.8,1506.1 1085.2,1511.9 1089.8,1518.2 1092.5,1521.4 1095.9,1521.4 1098.6,1518.9 1103.1,1513.1 1107.6,1507.4 1112.1,1502.1 1117.1,1495.7 1123.1,1495.7 1128.1,1501.0 1132.6,1506.1 1137.1,1511.9 1141.6,1518.2 1144.3,1521.4 1147.7,1521.4 1150.4,1518.9 1154.9,1513.1 1159.4,1507.4 1163.9,1502.1 1169.0,1495.7 1175.0,1495.7 1180.0,1501.0 1184.5,1506.1 1189.0,1511.9 1193.5,1518.2 1196.2,1521.4 1199.6,1521.4 1202.3,1518.9 1206.8,1513.1 1211.3,1507.4 1215.8,1502.1 1220.8,1495.7 1226.8,1495.7 1231.8,1501.0 1236.3,1506.1 1240.8,1511.9 1245.3,1518.2 1248.0,1521.4 1251.4,1521.4 1254.1,1518.9 1258.6,1513.1 1263.1,1507.4 1267.6,1502.1 1272.7,1495.7 1278.7,1495.7 1283.7,1501.0 1288.2,1506.1 1292.7,1511.9 1297.2,1518.2 1299.9,1521.4 1303.3,1521.4 1306.0,1518.9 1310.5,1513.1 1315.0,1507.4 1319.5,1502.1 1324.5,1495.7 1330.5,1495.7 1335.5,1501.0 1340.0,1506.1 1344.5,1511.9 1349.0,1518.2 1351.7,1521.4 1355.1,1521.4 1357.8,1518.9 1362.3,1513.1 1366.8,1507.4 1371.3,1502.1 1376.4,1495.7 1382.4,1495.7 1387.4,1501.0 1391.9,1506.1 1396.4,1511.9 1400.9,1518.2 1403.6,1521.4 1407.0,1521.4 1409.7,1518.9 1414.2,1513.1 1418.7,1507.4 1423.2,1502.1 1428.2,1495.7 1434.2,1495.7 1439.2,1501.0 1443.7,1506.1 1448.2,1511.9 1452.7,1518.2 1455.4,1521.4 1458.8,1521.4 1461.5,1518.9 1466.0,1513.1 1470.5,1507.4 1475.0,1502.1 1480.0,1495.7 1486.0,1495.7 1491.0,1501.0 1495.5,1506.1 1500.0,1511.9 1504.5,1518.2 1507.3,1521.4 1510.7,1521.4 1513.4,1518.9 1517.9,1513.1 1522.4,1507.4 1526.9,1502.1 1531.9,1495.7 1537.9,1495.7 1542.9,1501.0 1547.4,1506.1 1551.9,1511.9 1556.4,1518.2 1559.1,1521.4 1562.5,1521.4 1565.2,1518.9 1569.7,1513.1 1574.2,1507.4 1578.7,1502.1 1583.8,1495.7 1589.8,1495.7 1594.8,1501.0 1599.2,1506.1 1603.8,1511.9 1608.2,1518.2 1611.0,1521.4 1614.4,1521.4 1617.1,1518.9 1621.6,1513.1 1626.1,1507.4 1630.6,1502.1 1635.6,1495.7 1641.6,1495.7 1646.6,1501.0 1651.1,1506.1 1655.6,1511.9 1660.1,1518.2 1662.8,1521.4 1666.2,1521.4 1668.9,1518.9 1673.4,1513.1 1677.9,1507.4 1682.4,1502.1 1687.5,1495.7 1693.5,1495.7 1698.5,1501.0 1703.0,1506.1 1707.5,1511.9 1712.0,1518.2 1714.7,1521.4 1718.1,1521.4 1720.8,1518.9 1725.3,1513.1 1729.8,1507.4 1734.3,1502.1 1739.3,1495.7 1745.3,1495.7 1750.3,1501.0 1754.8,1506.1 1759.3,1511.9 1763.8,1518.2 1766.5,1521.4 1769.9,1521.4 1772.6,1518.9 1777.1,1513.1 1781.6,1507.4 1786.1,1502.1 1791.2,1495.7 1797.2,1495.7 1802.2,1501.0 1806.7,1506.1 1811.2,1511.9 1815.7,1518.2 1818.4,1521.4 1821.8,1521.4 1824.5,1518.9 1829.0,1513.1 1833.5,1507.4 1838.0,1502.1 1843.0,1495.7 1849.0,1495.7 1854.0,1501.0 1858.5,1506.1 1863.0,1511.9 1867.5,1518.2 1870.2,1521.4 1873.6,1521.4 1876.3,1518.9 1880.8,1513.1 1885.3,1507.4 1889.8,1502.1 1894.9,1495.7 1900.9,1495.7 1905.9,1501.0 1910.4,1506.1 1914.9,1511.9 1919.4,1518.2 1922.1,1521.4 1925.5,1521.4 1928.2,1518.9 1932.7,1513.1 1937.2,1507.4 1941.7,1502.1 1946.7,1495.7 1952.7,1495.7 1957.7,1501.0 1962.2,1506.1 1966.7,1511.9 1971.2,1518.2 1973.9,1521.4 1977.3,1521.4 1980.0,1518.9 1984.5,1513.1 1989.0,1507.4 1993.5,1502.1 1998.5,1495.7 2004.5,1495.7 2009.5,1501.0 2014.0,1506.1 2018.5,1511.9 2023.0,1518.2 2025.8,1521.4 2029.2,1521.4 2031.9,1518.9 2036.4,1513.1 2040.9,1507.4 2045.4,1502.1 2050.4,1495.7 2056.4,1495.7 2061.4,1501.0 2065.9,1506.1 2070.4,1511.9 2074.9,1518.2 2077.6,1521.4 2081.0,1521.4 2083.7,1518.9 2088.2,1513.1 2092.7,1507.4 2097.2,1502.1 2102.2,1495.7 2108.2,1495.7 2113.2,1501.0 2117.8,1506.1 2122.2,1511.9 2126.8,1518.2 2129.5,1521.4 2132.9,1521.4 2135.6,1518.9 2140.1,1513.1 2144.6,1507.4 2149.1,1502.1 2154.1,1495.7 2160.1,1495.7 2165.1,1501.0 2169.6,1506.1 2174.1,1511.9 2178.6,1518.2 2181.3,1521.4 2184.7,1521.4 2187.4,1518.9 2191.9,1513.1 2196.4,1507.4 2200.9,1502.1 2205.9,1495.7 2211.9,1495.7 2216.9,1501.0 2221.4,1506.1 2225.9,1511.9 2230.4,1518.2 2233.2,1521.4 2236.6,1521.4 2239.3,1518.9 2243.8,1513.1 2248.3,1507.4 2252.8,1502.1 2257.8,1495.7 2263.8,1495.7 2268.8,1501.0 2273.3,1506.1 2277.8,1511.9 2281.4,1517.0 2286.1,1517.0"/>
<polyline stroke="#F14040" points="290.1,1138.2 293.5,1138.2 298.5,1143.5 303.0,1148.6 307.5,1154.4 312.0,1160.7 314.7,1163.9 318.1,1163.9 320.8,1161.4 325.3,1155.6 329.8,1149.9 334.3,1144.6 339.4,1138.2 345.4,1138.2 350.4,1143.5 354.9,1148.6 359.4,1154.4 363.9,1160.7 366.6,1163.9 370.0,1163.9 372.7,1161.4 377.2,1155.6 381.7,1149.9 386.2,1144.6 391.2,1138.2 397.2,1138.2 402.2,1143.5 406.7,1148.6 411.2,1154.4 415.7,1160.7 418.4,1163.9 421.8,1163.9 424.5,1161.4 429.0,1155.6 433.5,1149.9 438.0,1144.6 443.1,1138.2 449.1,1138.2 454.1,1143.5 458.6,1148.6 463.1,1154.4 467.6,1160.7 470.3,1163.9 473.7,1163.9 476.4,1161.4 480.9,1155.6 485.4,1149.9 489.9,1144.6 494.9,1138.2 500.9,1138.2 505.9,1143.5 510.4,1148.6 514.9,1154.4 519.4,1160.7 522.1,1163.9 525.5,1163.9 528.2,1161.4 532.7,1155.6 537.2,1149.9 541.7,1144.6 546.8,1138.2 552.8,1138.2 557.8,1143.5 562.2,1148.6 566.8,1154.4 571.2,1160.7 574.0,1163.9 577.4,1163.9 580.1,1161.4 584.6,1155.6 589.1,1149.9 593.6,1144.6 598.6,1138.2 604.6,1138.2 609.6,1143.5 614.1,1148.6 618.6,1154.4 623.1,1160.7 625.8,1163.9 629.2,1163.9 631.9,1161.4 636.4,1155.6 640.9,1149.9 645.4,1144.6 650.5,1138.2 656.5,1138.2 661.5,1143.5 666.0,1148.6 670.5,1154.4 675.0,1160.7 677.7,1163.9 681.1,1163.9 683.8,1161.4 688.3,1155.6 692.8,1149.9 697.3,1144.6 702.3,1138.2 708.3,1138.2 713.3,1143.5 717.8,1148.6 722.3,1154.4 726.8,1160.7 729.5,1163.9 732.9,1163.9 735.6,1161.4 740.1,1155.6 744.6,1149.9 749.1,1144.6 754.2,1138.2 760.2,1138.2 765.2,1143.5 769.7,1148.6 774.2,1154.4 778.7,1160.7 781.4,1163.9 784.8,1163.9 787.5,1161.4 792.0,1155.6 796.5,1149.9 801.0,1144.6 806.0,1138.2 812.0,1138.2 817.0,1143.5 821.5,1148.6 826.0,1154.4 830.5,1160.7 833.2,1163.9 836.6,1163.9 839.3,1161.4 843.8,1155.6 848.3,1149.9 852.8,1144.6 857.9,1138.2 863.9,1138.2 868.9,1143.5 873.4,1148.6 877.9,1154.4 882.4,1160.7 885.1,1163.9 888.5,1163.9 891.2,1161.4 895.7,1155.6 900.2,1149.9 904.7,1144.6 909.7,1138.2 915.7,1138.2 920.7,1143.5 925.2,1148.6 929.7,1154.4 934.2,1160.7 936.9,1163.9 940.3,1163.9 943.0,1161.4 947.5,1155.6 952.0,1149.9 956.5,1144.6 961.6,1138.2 967.6,1138.2 972.6,1143.5 977.1,1148.6 981.6,1154.4 986.1,1160.7 988.8,1163.9 992.2,1163.9 994.9,1161.4 999.4,1155.6 1003.9,1149.9 1008.4,1144.6 1013.4,1138.2 1019.4,1138.2 1024.4,1143.5 1028.9,1148.6 1033.4,1154.4 1037.9,1160.7 1040.6,1163.9 1044.0,1163.9 1046.7,1161.4 1051.2,1155.6 1055.7,1149.9 1060.2,1144.6 1065.2,1138.2 1071.2,1138.2 1076.2,1143.5 1080.8,1148.6 1085.2,1154.4 1089.8,1160.7 1092.5,1163.9 1095.9,1163.9 1098.6,1161.4 1103.1,1155.6 1107.6,1149.9 1112.1,1144.6 1117.1,1138.2 1123.1,1138.2 1128.1,1143.5 1132.6,1148.6 1137.1,1154.4 1141.6,1160.7 1144.3,1163.9 1147.7,1163.9 1150.4,1161.4 1154.9,1155.6 1159.4,1149.9 1163.9,1144.6 1169.0,1138.2 1175.0,1138.2 1180.0,1143.5 1184.5,1148.6 1189.0,1154.4 1193.5,1160.7 1196.2,1163.9 1199.6,1163.9 1202.3,1161.4 1206.8,1155.6 1211.3,1149.9 1215.8,1144.6 1220.8,1138.2 1226.8,1138.2 1231.8,1143.5 1236.3,1148.6 1240.8,1154.4 1245.3,1160.7 1248.0,1163.9 1251.4,1163.9 1254.1,1161.4 1258.6,1155.6 1263.1,1149.9 1267.6,1144.6 1272.7,1138.2 1278.7,1138.2 1283.7,1143.5 1288.2,1148.6 1292.7,1154.4 1297.2,1160.7 1299.9,1163.9 1303.3,1163.9 1306.0,1161.4 1310.5,1155.6 1315.0,1149.9 1319.5,1144.6 1324.5,1138.2 1330.5,1138.2 1335.5,1143.5 1340.0,1148.6 1344.5,1154.4 1349.0,1160.7 1351.7,1163.9 1355.1,1163.9 1357.8,1161.4 1362.3,1155.6 1366.8,1149.9 1371.3,1144.6 1376.4,1138.2 1382.4,1138.2 1387.4,1143.5 1391.9,1148.6 1396.4,1154.4 1400.9,1160.7 1403.6,1163.9 1407.0,1163.9 1409.7,1161.4 1414.2,1155.6 1418.7,1149.9 1423.2,1144.6 1428.2,1138.2 1434.2,1138.2 1439.2,1143.5 1443.7,1148.6 1448.2,1154.4 1452.7,1160.7 1455.4,1163.9 1458.8,1163.9 1461.5,1161.4 1466.0,1155.6 1470.5,1149.9 1475.0,1144.6 1480.0,1138.2 1486.0,1138.2 1491.0,1143.5 1495.5,1148.6 1500.0,1154.4 1504.5,1160.7 1507.3,1163.9 1510.7,1163.9 1513.4,1161.4 1517.9,1155.6 1522.4,1149.9 1526.9,1144.6 1531.9,1138.2 1537.9,1138.2 1542.9,1143.5 1547.4,1148.6 1551.9,1154.4 1556.4,1160.7 1559.1,1163.9 1562.5,1163.9 1565.2,1161.4 1569.7,1155.6 1574.2,1149.9 1578.7,1144.6 1583.8,1138.2 1589.8,1138.2 1594.8,1143.5 1599.2,1148.6 1603.8,1154.4 1608.2,1160.7 1611.0,1163.9 1614.4,1163.9 1617.1,1161.4 1621.6,1155.6 1626.1,1149.9 1630.6,1144.6 1635.6,1138.2 1641.6,1138.2 1646.6,1143.5 1651.1,1148.6 1655.6,1154.4 1660.1,1160.7 1662.8,1163.9 1666.2,1163.9 1668.9,1161.4 1673.4,1155.6 1677.9,1149.9 1682.4,1144.6 1687.5,1138.2 1693.5,1138.2 1698.5,1143.5 1703.0,1148.6 1707.5,1154.4 1712.0,1160.7 1714.7,1163.9 1718.1,1163.9 1720.8,1161.4 1725.3,1155.6 1729.8,1149.9 1734.3,1144.6 1739.3,1138.2 1745.3,1138.2 1750.3,1143.5 1754.8,1148.6 1759.3,1154.4 1763.8,1160.7 1766.5,1163.9 1769.9,1163.9 1772.6,1161.4 1777.1,1155.6 1781.6,1149.9 1786.1,1144.6 1791.2,1138.2 1797.2,1138.2 1802.2,1143.5 1806.7,1148.6 1811.2,1154.4 1815.7,1160.7 1818.4,1163.9 1821.8,1163.9 1824.5,1161.4 1829.0,1155.6 1833.5,1149.9 1838.0,1144.6 1843.0,1138.2 1849.0,1138.2 1854.0,1143.5 1858.5,1148.6 1863.0,1154.4 1867.5,1160.7 1870.2,1163.9 1873.6,1163.9 1876.3,1161.4 1880.8,1155.6 1885.3,1149.9 1889.8,1144.6 1894.9,1138.2 1900.9,1138.2 1905.9,1143.5 1910.4,1148.6 1914.9,1154.4 1919.4,1160.7 1922.1,1163.9 1925.5,1163.9 1928.2,1161.4 1932.7,1155.6 1937.2,1149.9 1941.7,1144.6 1946.7,1138.2 1952.7,1138.2 1957.7,1143.5 1962.2,1148.6 1966.7,1154.4 1971.2,1160.7 1973.9,1163.9 1977.3,1163.9 1980.0,1161.4 1984.5,1155.6 1989.0,1149.9 1993.5,1144.6 1998.5,1138.2 2004.5,1138.2 2009.5,1143.5 2014.0,1148.6 2018.5,1154.4 2023.0,1160.7 2025.8,1163.9 2029.2,1163.9 2031.9,1161.4 2036.4,1155.6 2040.9,1149.9 2045.4,1144.6 2050.4,1138.2 2056.4,1138.2 2061.4,1143.5 2065.9,1148.6 2070.4,1154.4 2074.9,1160.7 2077.6,1163.9 2081.0,1163.9 2083.7,1161.4 2088.2,1155.6 2092.7,1149.9 2097.2,1144.6 2102.2,1138.2 2108.2,1138.2 2113.2,1143.5 2117.8,1148.6 2122.2,1154.4 2126.8,1160.7 2129.5,1163.9 2132.9,1163.9 2135.6,1161.4 2140.1,1155.6 2144.6,1149.9 2149.1,1144.6 2154.1,1138.2 2160.1,1138.2 2165.1,1143.5 2169.6,1148.6 2174.1,1154.4 2178.6,1160.7 2181.3,1163.9 2184.7,1163.9 2187.4,1161.4 2191.9,1155.6 2196.4,1149.9 2200.9,1144.6 2205.9,1138.2 2211.9,1138.2 2216.9,1143.5 2221.4,1148.6 2225.9,1154.4 2230.4,1160.7 2233.2,1163.9 2236.6,1163.9 2239.3,1161.4 2243.8,1155.6 2248.3,1149.9 2252.8,1144.6 2257.8,1138.2 2263.8,1138.2 2268.8,1143.5 2273.3,1148.6 2277.8,1154.4 2281.4,1159.5 2286.1,1159.5"/>
<polyline stroke="#B177DE" points="290.1,900.7 293.5,900.7 298.5,906.0 303.0,911.1 307.5,916.9 312.0,923.2 314.7,926.4 318.1,926.4 320.8,923.9 325.3,918.1 329.8,912.4 334.3,907.1 339.4,900.7 345.4,900.7 350.4,906.0 354.9,911.1 359.4,916.9 363.9,923.2 366.6,926.4 370.0,926.4 372.7,923.9 377.2,918.1 381.7,912.4 386.2,907.1 391.2,900.7 397.2,900.7 402.2,906.0 406.7,911.1 411.2,916.9 415.7,923.2 418.4,926.4 421.8,926.4 424.5,923.9 429.0,918.1 433.5,912.4 438.0,907.1 443.1,900.7 449.1,900.7 454.1,906.0 458.6,911.1 463.1,916.9 467.6,923.2 470.3,926.4 473.7,926.4 476.4,923.9 480.9,918.1 485.4,912.4 489.9,907.1 494.9,900.7 500.9,900.7 505.9,906.0 510.4,911.1 514.9,916.9 519.4,923.2 522.1,926.4 525.5,926.4 528.2,923.9 532.7,918.1 537.2,912.4 541.7,907.1 546.8,900.7 552.8,900.7 557.8,906.0 562.2,911.1 566.8,916.9 571.2,923.2 574.0,926.4 577.4,926.4 580.1,923.9 584.6,918.1 589.1,912.4 593.6,907.1 598.6,900.7 604.6,900.7 609.6,906.0 614.1,911.1 618.6,916.9 623.1,923.2 625.8,926.4 629.2,926.4 631.9,923.9 636.4,918.1 640.9,912.4 645.4,907.1 650.5,900.7 656.5,900.7 661.5,906.0 666.0,911.1 670.5,916.9 675.0,923.2 677.7,926.4 681.1,926.4 683.8,923.9 688.3,918.1 692.8,912.4 697.3,907.1 702.3,900.7 708.3,900.7 713.3,906.0 717.8,911.1 722.3,916.9 726.8,923.2 729.5,926.4 732.9,926.4 735.6,923.9 740.1,918.1 744.6,912.4 749.1,907.1 754.2,900.7 760.2,900.7 765.2,906.0 769.7,911.1 774.2,916.9 778.7,923.2 781.4,926.4 784.8,926.4 787.5,923.9 792.0,918.1 796.5,912.4 801.0,907.1 806.0,900.7 812.0,900.7 817.0,906.0 821.5,911.1 826.0,916.9 830.5,923.2 833.2,926.4 836.6,926.4 839.3,923.9 843.8,918.1 848.3,912.4 852.8,907.1 857.9,900.7 863.9,900.7 868.9,906.0 873.4,911.1 877.9,916.9 882.4,923.2 885.1,926.4 888.5,926.4 891.2,923.9 895.7,918.1 900.2,912.4 904.7,907.1 909.7,900.7 915.7,900.7 920.7,906.0 925.2,911.1 929.7,916.9 934.2,923.2 936.9,926.4 940.3,926.4 943.0,923.9 947.5,918.1 952.0,912.4 956.5,907.1 961.6,900.7 967.6,900.7 972.6,906.0 977.1,911.1 981.6,916.9 986.1,923.2 988.8,926.4 992.2,926.4 994.9,923.9 999.4,918.1 1003.9,912.4 1008.4,907.1 1013.4,900.7 1019.4,900.7 1024.4,906.0 1028.9,911.1 1033.4,916.9 1037.9,923.2 1040.6,926.4 1044.0,926.4 1046.7,923.9 1051.2,918.1 1055.7,912.4 1060.2,907.1 1065.2,900.7 1071.2,900.7 1076.2,906.0 1080.8,911.1 1085.2,916.9 1089.8,923.2 1092.5,926.4 1095.9,926.4 1098.6,923.9 1103.1,918.1 1107.6,912.4 1112.1,907.1 1117.1,900.7 1123.1,900.7 1128.1,906.0 1132.6,911.1 1137.1,916.9 1141.6,923.2 1144.3,926.4 1147.7,926.4 1150.4,923.9 1154.9,918.1 1159.4,912.4 1163.9,907.1 1169.0,900.7 1175.0,900.7 1180.0,906.0 1184.5,911.1 1189.0,916.9 1193.5,923.2 1196.2,926.4 1199.6,926.4 1202.3,923.9 1206.8,918.1 1211.3,912.4 1215.8,907.1 1220.8,900.7 1226.8,900.7 1231.8,906.0 1236.3,911.1 1240.8,916.9 1245.3,923.2 1248.0,926.4 1251.4,926.4 1254.1,923.9 1258.6,918.1 1263.1,912.4 1267.6,907.1 1272.7,900.7 1278.7,900.7 1283.7,906.0 1288.2,911.1 1292.7,916.9 1297.2,923.2 1299.9,926.4 1303.3,926.4 1306.0,923.9 1310.5,918.1 1315.0,912.4 1319.5,907.1 1324.5,900.7 1330.5,900.7 1335.5,906.0 1340.0,911.1 1344.5,916.9 1349.0,923.2 1351.7,926.4 1355.1,926.4 1357.8,923.9 1362.3,918.1 1366.8,912.4 1371.3,907.1 1376.4,900.7 1382.4,900.7 1387.4,906.0 1391.9,911.1 1396.4,916.9 1400.9,923.2 1403.6,926.4 1407.0,926.4 1409.7,923.9 1414.2,918.1 1418.7,912.4 1423.2,907.1 1428.2,900.7 1434.2,900.7 1439.2,906.0 1443.7,911.1 1448.2,916.9 1452.7,923.2 1455.4,926.4 1458.8,926.4 1461.5,923.9 1466.0,918.1 1470.5,912.4 1475.0,907.1 1480.0,900.7 1486.0,900.7 1491.0,906.0 1495.5,911.1 1500.0,916.9 1504.5,923.2 1507.3,926.4 1510.7,926.4 1513.4,923.9 1517.9,918.1 1522.4,912.4 1526.9,907.1 1531.9,900.7 1537.9,900.7 1542.9,906.0 1547.4,911.1 1551.9,916.9 1556.4,923.2 1559.1,926.4 1562.5,926.4 1565.2,923.9 1569.7,918.1 1574.2,912.4 1578.7,907.1 1583.8,900.7 1589.8,900.7 1594.8,906.0 1599.2,911.1 1603.8,916.9 1608.2,923.2 1611.0,926.4 1614.4,926.4 1617.1,923.9 1621.6,918.1 1626.1,912.4 1630.6,907.1 1635.6,900.7 1641.6,900.7 1646.6,906.0 1651.1,911.1 1655.6,916.9 1660.1,923.2 1662.8,926.4 1666.2,926.4 1668.9,923.9 1673.4,918.1 1677.9,912.4 1682.4,907.1 1687.5,900.7 1693.5,900.7 1698.5,906.0 1703.0,911.1 1707.5,916.9 1712.0,923.2 1714.7,926.4 1718.1,926.4 1720.8,923.9 1725.3,918.1 1729.8,912.4 1734.3,907.1 1739.3,900.7 1745.3,900.7 1750.3,906.0 1754.8,911.1 1759.3,916.9 1763.8,923.2 1766.5,926.4 1769.9,926.4 1772.6,923.9 1777.1,918.1 1781.6,912.4 1786.1,907.1 1791.2,900.7 1797.2,900.7 1802.2,906.0 1806.7,911.1 1811.2,916.9 1815.7,923.2 1818.4,926.4 1821.8,926.4 1824.5,923.9 1829.0,918.1 1833.5,912.4 1838.0,907.1 1843.0,900.7 1849.0,900.7 1854.0,906.0 1858.5,911.1 1863.0,916.9 1867.5,923.2 1870.2,926.4 1873.6,926.4 1876.3,923.9 1880.8,918.1 1885.3,912.4 1889.8,907.1 1894.9,900.7 1900.9,900.7 1905.9,906.0 1910.4,911.1 1914.9,916.9 1919.4,923.2 1922.1,926.4 1925.5,926.4 1928.2,923.9 1932.7,918.1 1937.2,912.4 1941.7,907.1 1946.7,900.7 1952.7,900.7 1957.7,906.0 1962.2,911.1 1966.7,916.9 1971.2,923.2 1973.9,926.4 1977.3,926.4 1980.0,923.9 1984.5,918.1 1989.0,912.4 1993.5,907.1 1998.5,900.7 2004.5,900.7 2009.5,906.0 2014.0,911.1 2018.5,916.9 2023.0,923.2 2025.8,926.4 2029.2,926.4 2031.9,923.9 2036.4,918.1 2040.9,912.4 2045.4,907.1 2050.4,900.7 2056.4,900.7 2061.4,906.0 2065.9,911.1 2070.4,916.9 2074.9,923.2 2077.6,926.4 2081.0,926.4 2083.7,923.9 2088.2,918.1 2092.7,912.4 2097.2,907.1 2102.2,900.7 2108.2,900.7 2113.2,906.0 2117.8,911.1 2122.2,916.9 2126.8,923.2 2129.5,926.4 2132.9,926.4 2135.6,923.9 2140.1,918.1 2144.6,912.4 2149.1,907.1 2154.1,900.7 2160.1,900.7 2165.1,906.0 2169.6,911.1 2174.1,916.9 2178.6,923.2 2181.3,926.4 2184.7,926.4 2187.4,923.9 2191.9,918.1 2196.4,912.4 2200.9,907.1 2205.9,900.7 2211.9,900.7 2216.9,906.0 2221.4,911.1 2225.9,916.9 2230.4,923.2 2233.2,926.4 2236.6,926.4 2239.3,923.9 2243.8,918.1 2248.3,912.4 2252.8,907.1 2257.8,900.7 2263.8,900.7 2268.8,906.0 2273.3,911.1 2277.8,916.9 2281.4,922.0 2286.1,922.0"/>
<polyline stroke="#CC9900" points="290.1,781.7 293.5,781.7 298.5,787.0 303.0,792.1 307.5,797.9 312.0,804.2 314.7,807.4 318.1,807.4 320.8,804.9 325.3,799.1 329.8,793.4 334.3,788.1 339.4,781.7 345.4,781.7 350.4,787.0 354.9,792.1 359.4,797.9 363.9,804.2 366.6,807.4 370.0,807.4 372.7,804.9 377.2,799.1 381.7,793.4 386.2,788.1 391.2,781.7 397.2,781.7 402.2,787.0 406.7,792.1 411.2,797.9 415.7,804.2 418.4,807.4 421.8,807.4 424.5,804.9 429.0,799.1 433.5,793.4 438.0,788.1 443.1,781.7 449.1,781.7 454.1,787.0 458.6,792.1 463.1,797.9 467.6,804.2 470.3,807.4 473.7,807.4 476.4,804.9 480.9,799.1 485.4,793.4 489.9,788.1 494.9,781.7 500.9,781.7 505.9,787.0 510.4,792.1 514.9,797.9 519.4,804.2 522.1,807.4 525.5,807.4 528.2,804.9 532.7,799.1 537.2,793.4 541.7,788.1 546.8,781.7 552.8,781.7 557.8,787.0 562.2,792.1 566.8,797.9 571.2,804.2 574.0,807.4 577.4,807.4 580.1,804.9 584.6,799.1 589.1,793.4 593.6,788.1 598.6,781.7 604.6,781.7 609.6,787.0 614.1,792.1 618.6,797.9 623.1,804.2 625.8,807.4 629.2,807.4 631.9,804.9 636.4,799.1 640.9,793.4 645.4,788.1 650.5,781.7 656.5,781.7 661.5,787.0 666.0,792.1 670.5,797.9 675.0,804.2 677.7,807.4 681.1,807.4 683.8,804.9 688.3,799.1 692.8,793.4 697.3,788.1 702.3,781.7 708.3,781.7 713.3,787.0 717.8,792.1 722.3,797.9 726.8,804.2 729.5,807.4 732.9,807.4 735.6,804.9 740.1,799.1 744.6,793.4 749.1,788.1 754.2,781.7 760.2,781.7 765.2,787.0 769.7,792.1 774.2,797.9 778.7,804.2 781.4,807.4 784.8,807.4 787.5,804.9 792.0,799.1 796.5,793.4 801.0,788.1 806.0,781.7 812.0,781.7 817.0,787.0 821.5,792.1 826.0,797.9 830.5,804.2 833.2,807.4 836.6,807.4 839.3,804.9 843.8,799.1 848.3,793.4 852.8,788.1 857.9,781.7 863.9,781.7 868.9,787.0 873.4,792.1 877.9,797.9 882.4,804.2 885.1,807.4 888.5,807.4 891.2,804.9 895.7,799.1 900.2,793.4 904.7,788.1 909.7,781.7 915.7,781.7 920.7,787.0 925.2,792.1 929.7,797.9 934.2,804.2 936.9,807.4 940.3,807.4 943.0,804.9 947.5,799.1 952.0,793.4 956.5,788.1 961.6,781.7 967.6,781.7 972.6,787.0 977.1,792.1 981.6,797.9 986.1,804.2 988.8,807.4 992.2,807.4 994.9,804.9 999.4,799.1 1003.9,793.4 1008.4,788.1 1013.4,781.7 1019.4,781.7 1024.4,787.0 1028.9,792.1 1033.4,797.9 1037.9,804.2 1040.6,807.4 1044.0,807.4 1046.7,804.9 1051.2,799.1 1055.7,793.4 1060.2,788.1 1065.2,781.7 1071.2,781.7 1076.2,787.0 1080.8,792.1 1085.2,797.9 1089.8,804.2 1092.5,807.4 1095.9,807.4 1098.6,804.9 1103.1,799.1 1107.6,793.4 1112.1,788.1 1117.1,781.7 1123.1,781.7 1128.1,787.0 1132.6,792.1 1137.1,797.9 1141.6,804.2 1144.3,807.4 1147.7,807.4 1150.4,804.9 1154.9,799.1 1159.4,793.4 1163.9,788.1 1169.0,781.7 1175.0,781.7 1180.0,787.0 1184.5,792.1 1189.0,797.9 1193.5,804.2 1196.2,807.4 1199.6,807.4 1202.3,804.9 1206.8,799.1 1211.3,793.4 1215.8,788.1 1220.8,781.7 1226.8,781.7 1231.8,787.0 1236.3,792.1 1240.8,797.9 1245.3,804.2 1248.0,807.4 1251.4,807.4 1254.1,804.9 1258.6,799.1 1263.1,793.4 1267.6,788.1 1272.7,781.7 1278.7,781.7 1283.7,787.0 1288.2,792.1 1292.7,797.9 1297.2,804.2 1299.9,807.4 1303.3,807.4 1306.0,804.9 1310.5,799.1 1315.0,793.4 1319.5,788.1 1324.5,781.7 1330.5,781.7 1335.5,787.0 1340.0,792.1 1344.5,797.9 1349.0,804.2 1351.7,807.4 1355.1,807.4 1357.8,804.9 1362.3,799.1 1366.8,793.4 1371.3,788.1 1376.4,781.7 1382.4,781.7 1387.4,787.0 1391.9,792.1 1396.4,797.9 1400.9,804.2 1403.6,807.4 1407.0,807.4 1409.7,804.9 1414.2,799.1 1418.7,793.4 1423.2,788.1 1428.2,781.7 1434.2,781.7 1439.2,787.0 1443.7,792.1 1448.2,797.9 1452.7,804.2 1455.4,807.4 1458.8,807.4 1461.5,804.9 1466.0,799.1 1470.5,793.4 1475.0,788.1 1480.0,781.7 1486.0,781.7 1491.0,787.0 1495.5,792.1 1500.0,797.9 1504.5,804.2 1507.3,807.4 1510.7,807.4 1513.4,804.9 1517.9,799.1 1522.4,793.4 1526.9,788.1 1531.9,781.7 1537.9,781.7 1542.9,787.0 1547.4,792.1 1551.9,797.9 1556.4,804.2 1559.1,807.4 1562.5,807.4 1565.2,804.9 1569.7,799.1 1574.2,793.4 1578.7,788.1 1583.8,781.7 1589.8,781.7 1594.8,787.0 1599.2,792.1 1603.8,797.9 1608.2,804.2 1611.0,807.4 1614.4,807.4 1617.1,804.9 1621.6,799.1 1626.1,793.4 1630.6,788.1 1635.6,781.7 1641.6,781.7 1646.6,787.0 1651.1,792.1 1655.6,797.9 1660.1,804.2 1662.8,807.4 1666.2,807.4 1668.9,804.9 1673.4,799.1 1677.9,793.4 1682.4,788.1 1687.5,781.7 1693.5,781.7 1698.5,787.0 1703.0,792.1 1707.5,797.9 1712.0,804.2 1714.7,807.4 1718.1,807.4 1720.8,804.9 1725.3,799.1 1729.8,793.4 1734.3,788.1 1739.3,781.7 1745.3,781.7 1750.3,787.0 1754.8,792.1 1759.3,797.9 1763.8,804.2 1766.5,807.4 1769.9,807.4 1772.6,804.9 1777.1,799.1 1781.6,793.4 1786.1,788.1 1791.2,781.7 1797.2,781.7 1802.2,787.0 1806.7,792.1 1811.2,797.9 1815.7,804.2 1818.4,807.4 1821.8,807.4 1824.5,804.9 1829.0,799.1 1833.5,793.4 1838.0,788.1 1843.0,781.7 1849.0,781.7 1854.0,787.0 1858.5,792.1 1863.0,797.9 1867.5,804.2 1870.2,807.4 1873.6,807.4 1876.3,804.9 1880.8,799.1 1885.3,793.4 1889.8,788.1 1894.9,781.7 1900.9,781.7 1905.9,787.0 1910.4,792.1 1914.9,797.9 1919.4,804.2 1922.1,807.4 1925.5,807.4 1928.2,804.9 1932.7,799.1 1937.2,793.4 1941.7,788.1 1946.7,781.7 1952.7,781.7 1957.7,787.0 1962.2,792.1 1966.7,797.9 1971.2,804.2 1973.9,807.4 1977.3,807.4 1980.0,804.9 1984.5,799.1 1989.0,793.4 1993.5,788.1 1998.5,781.7 2004.5,781.7 2009.5,787.0 2014.0,792.1 2018.5,797.9 2023.0,804.2 2025.8,807.4 2029.2,807.4 2031.9,804.9 2036.4,799.1 2040.9,793.4 2045.4,788.1 2050.4,781.7 2056.4,781.7 2061.4,787.0 2065.9,792.1 2070.4,797.9 2074.9,804.2 2077.6,807.4 2081.0,807.4 2083.7,804.9 2088.2,799.1 2092.7,793.4 2097.2,788.1 2102.2,781.7 2108.2,781.7 2113.2,787.0 2117.8,792.1 2122.2,797.9 2126.8,804.2 2129.5,807.4 2132.9,807.4 2135.6,804.9 2140.1,799.1 2144.6,793.4 2149.1,788.1 2154.1,781.7 2160.1,781.7 2165.1,787.0 2169.6,792.1 2174.1,797.9 2178.6,804.2 2181.3,807.4 2184.7,807.4 2187.4,804.9 2191.9,799.1 2196.4,793.4 2200.9,788.1 2205.9,781.7 2211.9,781.7 2216.9,787.0 2221.4,792.1 2225.9,797.9 2230.4,804.2 2233.2,807.4 2236.6,807.4 2239.3,804.9 2243.8,799.1 2248.3,793.4 2252.8,788.1 2257.8,781.7 2263.8,781.7 2268.8,787.0 2273.3,792.1 2277.8,797.9 2281.4,803.0 2286.1,803.0"/>
</g>
<g stroke="#FF0000" stroke-width="9" fill="none">
<line x1="280" y1="750.4" x2="2223.1" y2="750.4" stroke-dasharray="37 31.07"/>
<line x1="2253.7" y1="749.4" x2="2286.1" y2="756.5"/>
<line x1="2281.5" y1="791" x2="2281.5" y2="827.9"/>
<line x1="2251" y1="829.6" x2="300" y2="829.6" stroke-dasharray="37 31.07"/>
<line x1="284.55" y1="746" x2="284.55" y2="782.8"/>
<line x1="284.55" y1="814" x2="284.55" y2="833"/>
</g>
<rect x="1710.75" y="65.75" width="553" height="621.2" fill="#ffffff" stroke="#000000" stroke-width="3.5"/>
<g stroke-width="8.9" stroke-linecap="round" fill="none">
<line x1="1719.05" y1="102.4" x2="1839.35" y2="102.4" stroke="#37AD6B"/>
<line x1="1719.05" y1="180.64" x2="1839.35" y2="180.64" stroke="#7D4E4E"/>
<line x1="1719.05" y1="258.88" x2="1839.35" y2="258.88" stroke="#1A6FDF"/>
<line x1="1719.05" y1="337.12" x2="1839.35" y2="337.12" stroke="#00CBCC"/>
<line x1="1719.05" y1="415.36" x2="1839.35" y2="415.36" stroke="#515151"/>
<line x1="1719.05" y1="493.6" x2="1839.35" y2="493.6" stroke="#F14040"/>
<line x1="1719.05" y1="571.84" x2="1839.35" y2="571.84" stroke="#B177DE"/>
<line x1="1719.05" y1="650.08" x2="1839.35" y2="650.08" stroke="#CC9900"/>
</g>
<text transform="translate(0 121.3) scale(1 1.02)" font-size="52.5"><tspan x="1842.5" font-style="italic">V</tspan><tspan x="1870.8" dy="14.61" font-style="italic" font-size="34.5" letter-spacing="1.5">in</tspan><tspan dy="-14.61"> </tspan><tspan x="1913.2">=</tspan><tspan> </tspan><tspan x="1957">15</tspan><tspan> </tspan><tspan x="2021.9">kV</tspan></text>
<text transform="translate(0 199.54) scale(1 1.02)" font-size="52.5"><tspan x="1842.5" font-style="italic">V</tspan><tspan x="1870.8" dy="14.61" font-style="italic" font-size="34.5" letter-spacing="1.5">in</tspan><tspan dy="-14.61"> </tspan><tspan x="1913.2">=</tspan><tspan> </tspan><tspan x="1957">14</tspan><tspan> </tspan><tspan x="2021.9">kV</tspan></text>
<text transform="translate(0 277.78) scale(1 1.02)" font-size="52.5"><tspan x="1842.5" font-style="italic">V</tspan><tspan x="1870.8" dy="14.61" font-style="italic" font-size="34.5" letter-spacing="1.5">in</tspan><tspan dy="-14.61"> </tspan><tspan x="1913.2">=</tspan><tspan> </tspan><tspan x="1957">13</tspan><tspan> </tspan><tspan x="2021.9">kV</tspan></text>
<text transform="translate(0 356.02) scale(1 1.02)" font-size="52.5"><tspan x="1842.5" font-style="italic">V</tspan><tspan x="1870.8" dy="14.61" font-style="italic" font-size="34.5" letter-spacing="1.5">in</tspan><tspan dy="-14.61"> </tspan><tspan x="1913.2">=</tspan><tspan> </tspan><tspan x="1957">12</tspan><tspan> </tspan><tspan x="2021.9">kV</tspan></text>
<text transform="translate(0 434.26) scale(1 1.02)" font-size="52.5"><tspan x="1842.5" font-style="italic">V</tspan><tspan x="1870.8" dy="14.61" font-style="italic" font-size="34.5" letter-spacing="1.5">in</tspan><tspan dy="-14.61"> </tspan><tspan x="1913.2">=</tspan><tspan> </tspan><tspan x="1957">11</tspan><tspan> </tspan><tspan x="2021.9">kV</tspan></text>
<text transform="translate(0 512.5) scale(1 1.02)" font-size="52.5"><tspan x="1842.5" font-style="italic">V</tspan><tspan x="1870.8" dy="14.61" font-style="italic" font-size="34.5" letter-spacing="1.5">in</tspan><tspan dy="-14.61"> </tspan><tspan x="1913.2">=</tspan><tspan> </tspan><tspan x="1957">10</tspan><tspan> </tspan><tspan x="2021.9">kV</tspan></text>
<text transform="translate(0 590.74) scale(1 1.02)" font-size="52.5"><tspan x="1842.5" font-style="italic">V</tspan><tspan x="1870.8" dy="14.61" font-style="italic" font-size="34.5" letter-spacing="1.5">in</tspan><tspan dy="-14.61"> </tspan><tspan x="1913.2">=</tspan><tspan> </tspan><tspan x="1957">9</tspan><tspan> </tspan><tspan x="1995.65">kV</tspan></text>
<text transform="translate(1840.2 667.88) scale(1 1.02)" font-size="52.5">Closed-loop control</text>
<text transform="translate(289.9 1742) scale(1 1.03)" font-size="68.2" text-anchor="middle">0</text>
<text transform="translate(455.82 1742) scale(1 1.03)" font-size="68.2" text-anchor="middle">2</text>
<text transform="translate(621.73 1742) scale(1 1.03)" font-size="68.2" text-anchor="middle">4</text>
<text transform="translate(787.65 1742) scale(1 1.03)" font-size="68.2" text-anchor="middle">6</text>
<text transform="translate(953.57 1742) scale(1 1.03)" font-size="68.2" text-anchor="middle">8</text>
<text transform="translate(1120.48 1742) scale(1 1.03)" font-size="68.2" text-anchor="middle">10</text>
<text transform="translate(1286.4 1742) scale(1 1.03)" font-size="68.2" text-anchor="middle">12</text>
<text transform="translate(1452.32 1742) scale(1 1.03)" font-size="68.2" text-anchor="middle">14</text>
<text transform="translate(1618.23 1742) scale(1 1.03)" font-size="68.2" text-anchor="middle">16</text>
<text transform="translate(1784.15 1742) scale(1 1.03)" font-size="68.2" text-anchor="middle">18</text>
<text transform="translate(1948.37 1742) scale(1 1.03)" font-size="68.2" text-anchor="middle">20</text>
<text transform="translate(2114.28 1742) scale(1 1.03)" font-size="68.2" text-anchor="middle">22</text>
<text transform="translate(2280.2 1742) scale(1 1.03)" font-size="68.2" text-anchor="middle">24</text>
<text transform="translate(255 1676.2) scale(1 1.03)" font-size="68.2" text-anchor="end">346</text>
<text transform="translate(255 1497.92) scale(1 1.03)" font-size="68.2" text-anchor="end">352</text>
<text transform="translate(255 1319.63) scale(1 1.03)" font-size="68.2" text-anchor="end">358</text>
<text transform="translate(255 1141.35) scale(1 1.03)" font-size="68.2" text-anchor="end">364</text>
<text transform="translate(255 963.07) scale(1 1.03)" font-size="68.2" text-anchor="end">370</text>
<text transform="translate(255 784.78) scale(1 1.03)" font-size="68.2" text-anchor="end">376</text>
<text transform="translate(255 606.5) scale(1 1.03)" font-size="68.2" text-anchor="end">382</text>
<text transform="translate(255 428.22) scale(1 1.03)" font-size="68.2" text-anchor="end">388</text>
<text transform="translate(255 249.93) scale(1 1.03)" font-size="68.2" text-anchor="end">394</text>
<text transform="translate(255 71.65) scale(1 1.03)" font-size="68.2" text-anchor="end">400</text>
<text transform="translate(1140 1849.8) scale(1 1.033)" font-size="105">Time/s</text>
<text transform="translate(94.5 1189.8) rotate(-90) scale(1 1.008)" font-size="107.2">Output volatge/V</text>
</svg></body></html>
